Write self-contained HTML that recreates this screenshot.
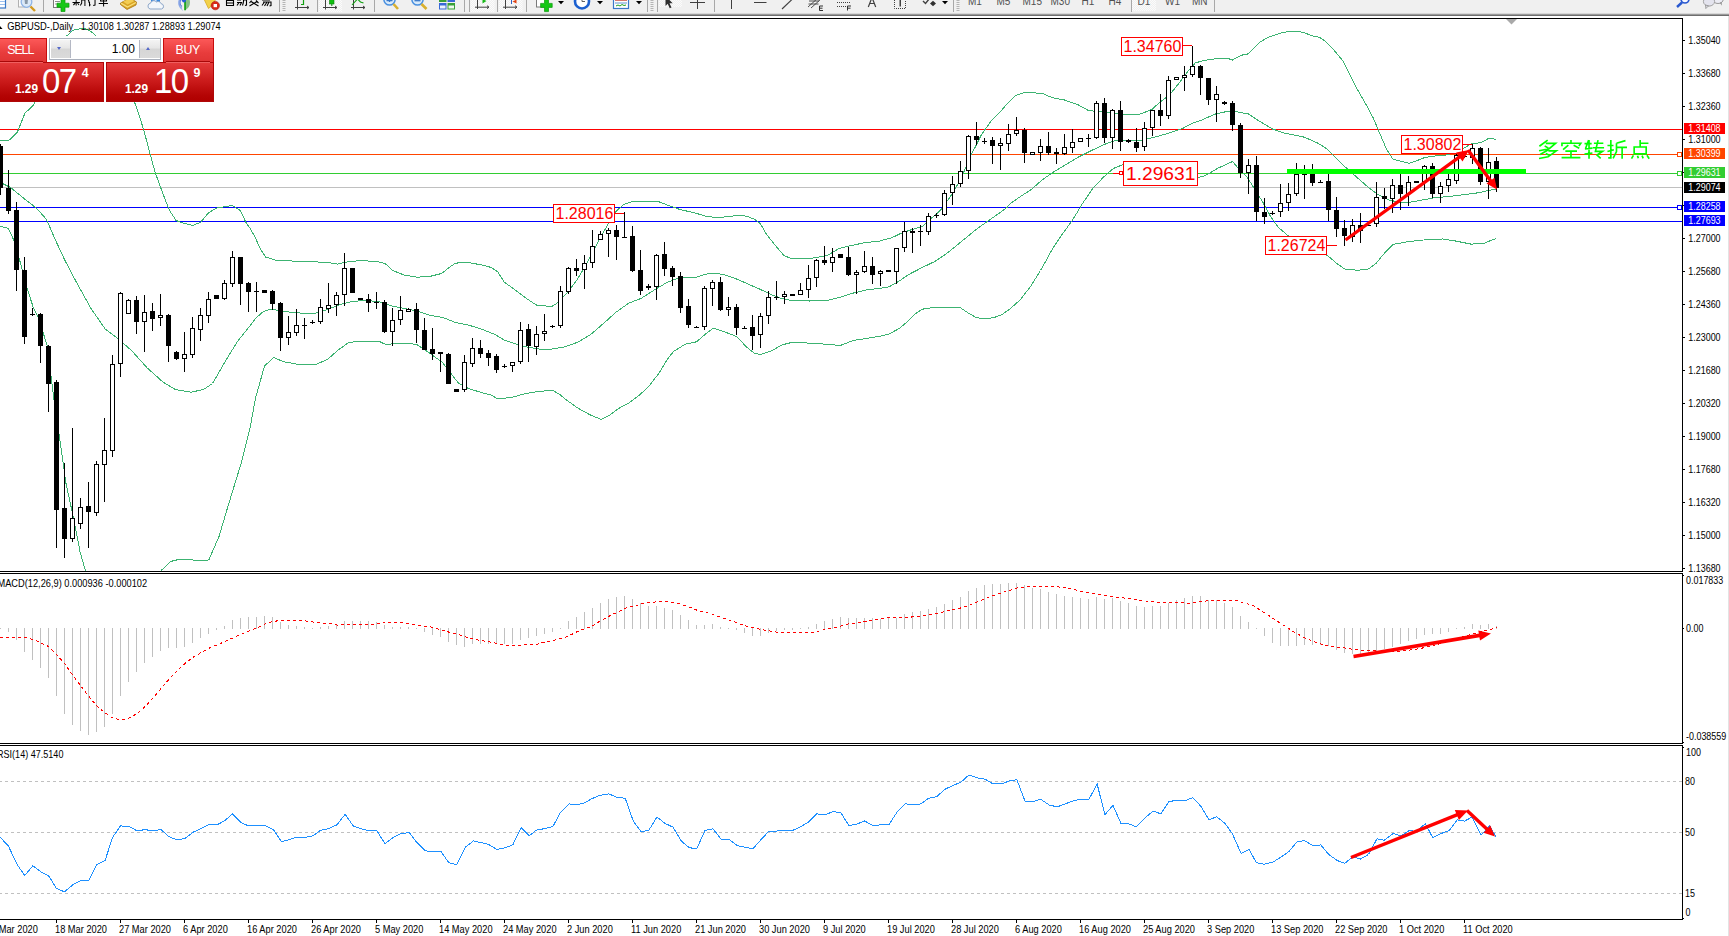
<!DOCTYPE html>
<html><head><meta charset="utf-8"><title>GBPUSD Daily</title>
<style>
html,body{margin:0;padding:0;background:#fff;}
body{width:1729px;height:936px;position:relative;overflow:hidden;font-family:"Liberation Sans",sans-serif;}
</style></head><body>
<svg width="1729" height="936" viewBox="0 0 1729 936" style="position:absolute;left:0;top:0">
<g shape-rendering="crispEdges">
<defs><clipPath id="cm"><rect x="0" y="19" width="1682" height="552"/></clipPath></defs>
<rect x="0" y="129" width="1682" height="1" fill="#ff0000" />
<rect x="0" y="154" width="1682" height="1" fill="#ff4500" />
<rect x="0" y="173" width="1682" height="1" fill="#32cd32" />
<rect x="0" y="187" width="1682" height="1" fill="#c0c0c0" />
<rect x="0" y="207" width="1682" height="1" fill="#0000ff" />
<rect x="0" y="221" width="1682" height="1" fill="#0000ff" />
<g clip-path="url(#cm)">
<polyline points="0.5,140.2 8.2,141.0 17.2,132.5 24.9,113.3 33.5,105.1 40.5,90.5 48.5,65.5 58.5,45.5 66.5,36.2 73.0,30.2 80.3,28.7 87.0,29.1 92.3,32.5 96.3,36.2 105.5,48.5 118.5,68.5 128.5,88.5 135.5,104.7 138.9,114.3 144.1,131.3 150.5,155.5 155.5,173.5 164.5,197.9 169.5,210.5 176.1,220.5 182.5,222.8 192.8,225.5 200.5,222.3 208.2,213.3 215.9,208.2 226.1,206.4 232.5,205.5 240.2,210.5 246.5,223.5 250.5,229.0 255.5,237.9 260.5,249.5 265.9,257.2 276.1,260.2 301.5,261.5 327.5,262.3 337.5,264.1 347.9,261.8 360.5,260.5 378.5,261.8 385.1,263.5 392.8,270.5 404.3,275.1 417.2,277.2 430.0,276.4 441.5,273.5 449.2,267.5 455.5,263.1 468.5,262.5 481.3,264.9 491.5,267.5 497.9,272.0 504.3,282.3 510.5,286.5 515.9,290.5 526.1,298.2 536.5,305.1 551.8,306.5 556.9,303.3 567.2,293.1 577.5,279.0 587.5,262.3 595.5,246.9 603.1,232.8 608.2,223.8 615.1,212.3 623.5,204.5 631.3,202.0 644.1,201.5 659.5,202.0 669.5,205.9 680.0,209.5 695.5,213.1 705.5,216.1 715.9,217.5 726.1,216.9 736.5,215.5 746.5,216.1 754.3,219.2 760.5,223.8 765.9,233.5 776.1,246.4 783.8,255.4 791.5,258.7 801.8,258.7 814.5,257.9 827.5,255.4 839.0,248.5 853.1,245.1 865.9,242.5 878.5,241.3 891.5,237.9 901.5,233.1 912.0,229.5 922.3,226.4 930.0,219.5 940.2,210.5 950.5,196.4 960.5,179.5 971.0,155.4 981.3,134.9 991.5,120.5 1000.5,111.5 1008.2,102.5 1015.9,95.4 1023.5,92.8 1041.5,93.1 1051.8,97.5 1064.5,100.0 1077.5,104.5 1089.0,110.8 1103.1,111.5 1115.9,113.5 1128.5,114.9 1140.2,114.1 1151.8,109.5 1159.5,102.5 1169.5,94.9 1180.0,82.0 1187.5,71.8 1195.4,62.8 1205.5,60.2 1215.5,58.8 1229.1,58.8 1232.1,60.2 1241.1,55.3 1248.5,53.8 1260.5,41.8 1268.2,37.3 1280.2,33.1 1287.5,31.7 1299.5,31.7 1305.5,33.1 1311.5,35.8 1319.3,37.3 1325.3,41.1 1332.5,48.5 1343.4,61.4 1350.5,76.4 1358.5,91.5 1365.5,103.5 1373.5,118.5 1378.5,130.5 1386.5,149.2 1392.8,159.0 1401.8,161.5 1409.5,163.3 1417.2,160.5 1424.9,157.5 1435.1,156.0 1445.4,155.1 1455.5,152.5 1463.3,148.5 1471.0,144.0 1481.3,142.5 1488.0,138.8 1493.1,138.8 1496.5,140.1" fill="none" stroke="#3cb371" stroke-width="1" />
<polyline points="0.5,182.5 10.5,187.5 24.9,199.2 36.5,208.2 46.5,219.5 55.5,240.2 64.5,259.5 75.5,280.5 91.0,308.5 105.1,328.9 117.5,338.2 131.5,350.5 147.2,367.9 162.8,381.9 175.3,389.5 190.9,392.2 203.5,389.5 212.5,383.5 225.2,361.5 237.5,341.4 250.2,325.5 255.5,318.5 263.3,311.5 271.0,309.0 283.8,311.5 301.5,313.1 314.5,313.5 327.5,309.5 340.2,304.5 353.1,301.3 365.9,300.5 378.5,301.5 391.5,305.9 404.3,308.5 417.2,311.0 430.0,315.4 442.8,317.5 455.5,322.5 468.5,325.1 481.3,329.0 494.1,334.1 504.3,340.0 513.3,343.1 526.1,346.9 539.0,349.0 551.8,349.0 564.5,346.9 577.5,342.3 590.2,334.9 603.1,323.8 615.9,312.3 628.5,303.3 641.5,298.2 654.3,290.0 667.2,282.3 680.0,277.5 695.5,277.5 705.5,274.3 713.3,273.1 723.5,274.5 736.5,279.0 746.5,283.3 760.5,289.5 771.0,294.5 781.3,298.5 791.5,300.5 809.5,301.0 827.5,300.5 840.2,297.2 853.1,293.1 865.9,290.0 878.5,288.5 889.0,286.9 899.2,281.0 909.5,274.1 922.3,267.5 935.1,261.3 945.4,254.5 955.5,246.4 965.9,237.9 976.1,229.5 986.5,222.0 996.5,215.1 1006.9,207.5 1010.5,203.5 1021.0,196.1 1031.3,189.5 1041.5,180.5 1051.8,173.1 1064.5,165.4 1077.5,157.5 1087.5,152.5 1103.1,144.9 1115.9,140.2 1128.5,140.5 1141.5,140.2 1151.8,137.9 1162.0,135.1 1172.3,132.0 1182.5,128.5 1192.8,123.1 1200.5,120.5 1215.5,114.0 1229.1,111.0 1238.1,112.0 1248.5,114.0 1257.5,120.0 1272.5,129.0 1284.5,133.1 1304.5,137.2 1317.2,142.8 1327.5,149.2 1337.5,159.5 1347.9,169.5 1358.2,178.5 1368.5,187.5 1378.5,194.9 1389.0,200.0 1399.2,202.3 1409.5,202.3 1419.5,200.5 1433.3,198.0 1450.5,196.3 1467.5,194.2 1480.3,192.5 1488.9,190.3 1496.5,189.3" fill="none" stroke="#3cb371" stroke-width="1" />
<polyline points="0.5,226.1 8.2,228.5 13.3,239.0 19.5,259.5 26.1,285.1 33.5,308.2 38.0,316.5 47.3,346.0 53.5,396.0 59.8,439.5 66.0,483.5 73.8,519.3 80.1,552.0 85.4,570.5 86.5,575.5" fill="none" stroke="#3cb371" stroke-width="1" />
<polyline points="159.5,575.5 161.2,570.5 170.5,561.5 178.5,559.5 206.5,560.5 209.0,559.5 219.0,536.5 228.3,505.2 240.8,464.5 250.2,427.2 255.5,398.2 264.5,366.1 273.5,357.5 283.8,361.8 301.5,364.9 314.5,364.9 327.5,359.5 337.5,350.5 347.9,343.1 358.2,341.0 378.5,341.0 386.5,344.9 394.1,343.3 409.5,343.1 417.2,344.9 430.0,353.3 442.8,362.8 453.1,376.4 458.2,382.8 468.5,388.5 481.3,392.5 491.5,395.1 497.9,399.0 510.5,397.5 513.3,396.9 526.1,393.5 539.0,391.3 553.1,390.5 559.5,394.3 567.2,400.5 577.5,407.9 590.2,414.9 601.3,419.5 608.2,416.1 618.5,408.5 628.5,403.3 639.0,395.5 649.2,385.9 659.5,372.5 667.2,359.5 673.5,351.5 685.1,344.3 696.5,341.8 705.5,334.1 713.3,328.2 723.5,331.5 736.5,336.5 746.5,346.9 754.3,353.3 760.5,354.5 772.3,350.5 781.3,345.1 791.5,342.5 809.5,343.1 827.5,344.3 840.2,345.5 853.1,340.5 865.9,338.5 878.5,336.5 889.0,334.1 899.2,328.5 906.9,322.0 914.5,314.3 922.3,309.2 935.1,307.2 947.9,307.9 960.5,307.9 968.5,313.1 976.1,317.5 983.8,319.0 994.1,317.5 1001.5,314.9 1010.5,308.5 1020.5,299.5 1030.5,286.5 1040.5,270.5 1046.1,260.5 1051.8,250.0 1062.0,234.5 1072.3,220.5 1082.5,203.5 1092.8,188.5 1103.1,177.5 1113.3,168.5 1122.3,164.9 1140.5,162.5 1160.5,168.5 1180.5,176.5 1197.9,177.5 1205.5,175.5 1218.5,167.9 1232.5,161.5 1239.0,169.2 1246.5,176.5 1253.1,186.5 1260.5,198.5 1263.3,203.1 1271.0,217.2 1278.5,227.5 1289.0,236.5 1300.5,243.5 1315.5,250.5 1327.5,255.5 1336.5,263.3 1345.4,269.5 1358.2,270.2 1368.5,269.0 1376.1,263.3 1383.5,254.3 1392.8,244.5 1404.3,242.3 1417.2,240.5 1430.0,239.5 1442.8,239.0 1455.5,241.0 1471.0,244.1 1483.5,243.5 1491.5,240.2 1496.5,238.5" fill="none" stroke="#3cb371" stroke-width="1" />
<rect x="0" y="144" width="1" height="51" fill="#000" />
<rect x="-2" y="146" width="5" height="42" fill="#000" />
<rect x="8" y="170" width="1" height="44" fill="#000" />
<rect x="6" y="188" width="5" height="23" fill="#000" />
<rect x="16" y="202" width="1" height="89" fill="#000" />
<rect x="14" y="210" width="5" height="60" fill="#000" />
<rect x="24" y="257" width="1" height="87" fill="#000" />
<rect x="22" y="270" width="5" height="67" fill="#000" />
<rect x="32" y="308" width="1" height="8" fill="#000" />
<rect x="30" y="314" width="5" height="1" fill="#000" />
<rect x="40" y="313" width="1" height="50" fill="#000" />
<rect x="38" y="314" width="5" height="32" fill="#000" />
<rect x="48" y="345" width="1" height="67" fill="#000" />
<rect x="46" y="346" width="5" height="38" fill="#000" />
<rect x="56" y="380" width="1" height="168" fill="#000" />
<rect x="54" y="382" width="5" height="128" fill="#000" />
<rect x="64" y="463" width="1" height="95" fill="#000" />
<rect x="62" y="508" width="5" height="31" fill="#000" />
<rect x="72" y="428" width="1" height="114" fill="#000" />
<rect x="70" y="518" width="5" height="21" fill="#000" />
<rect x="71" y="519" width="3" height="19" fill="#fff" />
<rect x="80" y="498" width="1" height="31" fill="#000" />
<rect x="78" y="507" width="5" height="17" fill="#000" />
<rect x="79" y="508" width="3" height="15" fill="#fff" />
<rect x="88" y="482" width="1" height="66" fill="#000" />
<rect x="86" y="506" width="5" height="6" fill="#000" />
<rect x="96" y="461" width="1" height="55" fill="#000" />
<rect x="94" y="464" width="5" height="49" fill="#000" />
<rect x="95" y="465" width="3" height="47" fill="#fff" />
<rect x="104" y="418" width="1" height="84" fill="#000" />
<rect x="102" y="450" width="5" height="15" fill="#000" />
<rect x="103" y="451" width="3" height="13" fill="#fff" />
<rect x="112" y="355" width="1" height="102" fill="#000" />
<rect x="110" y="364" width="5" height="87" fill="#000" />
<rect x="111" y="365" width="3" height="85" fill="#fff" />
<rect x="120" y="292" width="1" height="85" fill="#000" />
<rect x="118" y="293" width="5" height="71" fill="#000" />
<rect x="119" y="294" width="3" height="69" fill="#fff" />
<rect x="128" y="299" width="1" height="15" fill="#000" />
<rect x="126" y="300" width="5" height="14" fill="#000" />
<rect x="127" y="301" width="3" height="12" fill="#fff" />
<rect x="136" y="296" width="1" height="38" fill="#000" />
<rect x="134" y="300" width="5" height="22" fill="#000" />
<rect x="144" y="295" width="1" height="57" fill="#000" />
<rect x="142" y="312" width="5" height="10" fill="#000" />
<rect x="143" y="313" width="3" height="8" fill="#fff" />
<rect x="152" y="303" width="1" height="28" fill="#000" />
<rect x="150" y="311" width="5" height="8" fill="#000" />
<rect x="160" y="294" width="1" height="32" fill="#000" />
<rect x="158" y="315" width="5" height="3" fill="#000" />
<rect x="159" y="316" width="3" height="1" fill="#fff" />
<rect x="168" y="314" width="1" height="48" fill="#000" />
<rect x="166" y="315" width="5" height="31" fill="#000" />
<rect x="176" y="351" width="1" height="9" fill="#000" />
<rect x="174" y="352" width="5" height="7" fill="#000" />
<rect x="184" y="332" width="1" height="40" fill="#000" />
<rect x="182" y="354" width="5" height="5" fill="#000" />
<rect x="183" y="355" width="3" height="3" fill="#fff" />
<rect x="192" y="317" width="1" height="41" fill="#000" />
<rect x="190" y="328" width="5" height="27" fill="#000" />
<rect x="191" y="329" width="3" height="25" fill="#fff" />
<rect x="200" y="308" width="1" height="33" fill="#000" />
<rect x="198" y="315" width="5" height="15" fill="#000" />
<rect x="199" y="316" width="3" height="13" fill="#fff" />
<rect x="208" y="292" width="1" height="31" fill="#000" />
<rect x="206" y="299" width="5" height="17" fill="#000" />
<rect x="207" y="300" width="3" height="15" fill="#fff" />
<rect x="214" y="295" width="5" height="4" fill="#000" />
<rect x="224" y="280" width="1" height="20" fill="#000" />
<rect x="222" y="283" width="5" height="16" fill="#000" />
<rect x="223" y="284" width="3" height="14" fill="#fff" />
<rect x="232" y="251" width="1" height="36" fill="#000" />
<rect x="230" y="257" width="5" height="27" fill="#000" />
<rect x="231" y="258" width="3" height="25" fill="#fff" />
<rect x="240" y="257" width="1" height="48" fill="#000" />
<rect x="238" y="257" width="5" height="27" fill="#000" />
<rect x="248" y="282" width="1" height="30" fill="#000" />
<rect x="246" y="283" width="5" height="9" fill="#000" />
<rect x="256" y="282" width="1" height="30" fill="#000" />
<rect x="254" y="291" width="5" height="1" fill="#000" />
<rect x="262" y="290" width="5" height="3" fill="#000" />
<rect x="272" y="290" width="1" height="20" fill="#000" />
<rect x="270" y="291" width="5" height="13" fill="#000" />
<rect x="280" y="302" width="1" height="49" fill="#000" />
<rect x="278" y="303" width="5" height="35" fill="#000" />
<rect x="288" y="316" width="1" height="29" fill="#000" />
<rect x="286" y="332" width="5" height="6" fill="#000" />
<rect x="287" y="333" width="3" height="4" fill="#fff" />
<rect x="296" y="309" width="1" height="27" fill="#000" />
<rect x="294" y="325" width="5" height="8" fill="#000" />
<rect x="295" y="326" width="3" height="6" fill="#fff" />
<rect x="304" y="318" width="1" height="21" fill="#000" />
<rect x="302" y="325" width="5" height="1" fill="#000" />
<rect x="312" y="320" width="1" height="4" fill="#000" />
<rect x="310" y="322" width="5" height="1" fill="#000" />
<rect x="320" y="299" width="1" height="25" fill="#000" />
<rect x="318" y="307" width="5" height="15" fill="#000" />
<rect x="319" y="308" width="3" height="13" fill="#fff" />
<rect x="328" y="283" width="1" height="30" fill="#000" />
<rect x="326" y="305" width="5" height="4" fill="#000" />
<rect x="327" y="306" width="3" height="2" fill="#fff" />
<rect x="336" y="292" width="1" height="24" fill="#000" />
<rect x="334" y="295" width="5" height="10" fill="#000" />
<rect x="335" y="296" width="3" height="8" fill="#fff" />
<rect x="344" y="253" width="1" height="53" fill="#000" />
<rect x="342" y="268" width="5" height="27" fill="#000" />
<rect x="343" y="269" width="3" height="25" fill="#fff" />
<rect x="350" y="268" width="5" height="25" fill="#000" />
<rect x="358" y="298" width="5" height="2" fill="#000" />
<rect x="368" y="294" width="1" height="18" fill="#000" />
<rect x="366" y="299" width="5" height="4" fill="#000" />
<rect x="376" y="292" width="1" height="17" fill="#000" />
<rect x="374" y="302" width="5" height="1" fill="#000" />
<rect x="384" y="300" width="1" height="33" fill="#000" />
<rect x="382" y="302" width="5" height="30" fill="#000" />
<rect x="392" y="308" width="1" height="38" fill="#000" />
<rect x="390" y="320" width="5" height="12" fill="#000" />
<rect x="391" y="321" width="3" height="10" fill="#fff" />
<rect x="400" y="296" width="1" height="29" fill="#000" />
<rect x="398" y="310" width="5" height="10" fill="#000" />
<rect x="399" y="311" width="3" height="8" fill="#fff" />
<rect x="408" y="308" width="1" height="4" fill="#000" />
<rect x="406" y="309" width="5" height="3" fill="#000" />
<rect x="407" y="310" width="3" height="1" fill="#fff" />
<rect x="416" y="303" width="1" height="40" fill="#000" />
<rect x="414" y="309" width="5" height="21" fill="#000" />
<rect x="424" y="318" width="1" height="32" fill="#000" />
<rect x="422" y="330" width="5" height="20" fill="#000" />
<rect x="432" y="328" width="1" height="32" fill="#000" />
<rect x="430" y="349" width="5" height="5" fill="#000" />
<rect x="440" y="352" width="1" height="20" fill="#000" />
<rect x="438" y="352" width="5" height="2" fill="#000" />
<rect x="448" y="353" width="1" height="31" fill="#000" />
<rect x="446" y="354" width="5" height="30" fill="#000" />
<rect x="454" y="389" width="5" height="3" fill="#000" />
<rect x="464" y="355" width="1" height="37" fill="#000" />
<rect x="462" y="362" width="5" height="28" fill="#000" />
<rect x="463" y="363" width="3" height="26" fill="#fff" />
<rect x="472" y="338" width="1" height="29" fill="#000" />
<rect x="470" y="348" width="5" height="16" fill="#000" />
<rect x="471" y="349" width="3" height="14" fill="#fff" />
<rect x="480" y="340" width="1" height="18" fill="#000" />
<rect x="478" y="348" width="5" height="6" fill="#000" />
<rect x="488" y="350" width="1" height="16" fill="#000" />
<rect x="486" y="353" width="5" height="5" fill="#000" />
<rect x="496" y="354" width="1" height="19" fill="#000" />
<rect x="494" y="356" width="5" height="14" fill="#000" />
<rect x="504" y="364" width="1" height="4" fill="#000" />
<rect x="502" y="366" width="5" height="1" fill="#000" />
<rect x="512" y="362" width="1" height="10" fill="#000" />
<rect x="510" y="362" width="5" height="4" fill="#000" />
<rect x="511" y="363" width="3" height="2" fill="#fff" />
<rect x="520" y="322" width="1" height="42" fill="#000" />
<rect x="518" y="330" width="5" height="32" fill="#000" />
<rect x="519" y="331" width="3" height="30" fill="#fff" />
<rect x="528" y="324" width="1" height="38" fill="#000" />
<rect x="526" y="329" width="5" height="17" fill="#000" />
<rect x="536" y="326" width="1" height="29" fill="#000" />
<rect x="534" y="334" width="5" height="13" fill="#000" />
<rect x="535" y="335" width="3" height="11" fill="#fff" />
<rect x="544" y="314" width="1" height="27" fill="#000" />
<rect x="542" y="331" width="5" height="3" fill="#000" />
<rect x="543" y="332" width="3" height="1" fill="#fff" />
<rect x="552" y="325" width="1" height="3" fill="#000" />
<rect x="550" y="326" width="5" height="1" fill="#000" />
<rect x="560" y="286" width="1" height="42" fill="#000" />
<rect x="558" y="291" width="5" height="35" fill="#000" />
<rect x="559" y="292" width="3" height="33" fill="#fff" />
<rect x="568" y="267" width="1" height="27" fill="#000" />
<rect x="566" y="268" width="5" height="24" fill="#000" />
<rect x="567" y="269" width="3" height="22" fill="#fff" />
<rect x="576" y="259" width="1" height="17" fill="#000" />
<rect x="574" y="268" width="5" height="3" fill="#000" />
<rect x="584" y="255" width="1" height="34" fill="#000" />
<rect x="582" y="263" width="5" height="7" fill="#000" />
<rect x="583" y="264" width="3" height="5" fill="#fff" />
<rect x="592" y="230" width="1" height="38" fill="#000" />
<rect x="590" y="246" width="5" height="17" fill="#000" />
<rect x="591" y="247" width="3" height="15" fill="#fff" />
<rect x="600" y="231" width="1" height="9" fill="#000" />
<rect x="598" y="234" width="5" height="6" fill="#000" />
<rect x="599" y="235" width="3" height="4" fill="#fff" />
<rect x="608" y="228" width="1" height="29" fill="#000" />
<rect x="606" y="230" width="5" height="4" fill="#000" />
<rect x="607" y="231" width="3" height="2" fill="#fff" />
<rect x="616" y="225" width="1" height="35" fill="#000" />
<rect x="614" y="230" width="5" height="7" fill="#000" />
<rect x="624" y="212" width="1" height="25" fill="#000" />
<rect x="622" y="237" width="5" height="1" fill="#000" />
<rect x="632" y="226" width="1" height="46" fill="#000" />
<rect x="630" y="236" width="5" height="35" fill="#000" />
<rect x="640" y="250" width="1" height="45" fill="#000" />
<rect x="638" y="270" width="5" height="21" fill="#000" />
<rect x="648" y="284" width="1" height="6" fill="#000" />
<rect x="646" y="286" width="5" height="2" fill="#000" />
<rect x="656" y="254" width="1" height="46" fill="#000" />
<rect x="654" y="255" width="5" height="32" fill="#000" />
<rect x="655" y="256" width="3" height="30" fill="#fff" />
<rect x="664" y="242" width="1" height="34" fill="#000" />
<rect x="662" y="254" width="5" height="15" fill="#000" />
<rect x="672" y="266" width="1" height="20" fill="#000" />
<rect x="670" y="268" width="5" height="9" fill="#000" />
<rect x="680" y="272" width="1" height="41" fill="#000" />
<rect x="678" y="276" width="5" height="32" fill="#000" />
<rect x="688" y="299" width="1" height="29" fill="#000" />
<rect x="686" y="306" width="5" height="19" fill="#000" />
<rect x="696" y="326" width="1" height="2" fill="#000" />
<rect x="694" y="327" width="5" height="1" fill="#000" />
<rect x="704" y="286" width="1" height="44" fill="#000" />
<rect x="702" y="288" width="5" height="39" fill="#000" />
<rect x="703" y="289" width="3" height="37" fill="#fff" />
<rect x="712" y="280" width="1" height="26" fill="#000" />
<rect x="710" y="282" width="5" height="7" fill="#000" />
<rect x="711" y="283" width="3" height="5" fill="#fff" />
<rect x="720" y="277" width="1" height="34" fill="#000" />
<rect x="718" y="282" width="5" height="28" fill="#000" />
<rect x="728" y="297" width="1" height="19" fill="#000" />
<rect x="726" y="307" width="5" height="3" fill="#000" />
<rect x="727" y="308" width="3" height="1" fill="#fff" />
<rect x="736" y="304" width="1" height="31" fill="#000" />
<rect x="734" y="307" width="5" height="21" fill="#000" />
<rect x="744" y="326" width="1" height="3" fill="#000" />
<rect x="742" y="328" width="5" height="1" fill="#000" />
<rect x="752" y="315" width="1" height="35" fill="#000" />
<rect x="750" y="327" width="5" height="9" fill="#000" />
<rect x="760" y="313" width="1" height="35" fill="#000" />
<rect x="758" y="316" width="5" height="19" fill="#000" />
<rect x="759" y="317" width="3" height="17" fill="#fff" />
<rect x="768" y="291" width="1" height="33" fill="#000" />
<rect x="766" y="297" width="5" height="19" fill="#000" />
<rect x="767" y="298" width="3" height="17" fill="#fff" />
<rect x="776" y="281" width="1" height="19" fill="#000" />
<rect x="774" y="297" width="5" height="1" fill="#000" />
<rect x="784" y="291" width="1" height="13" fill="#000" />
<rect x="782" y="294" width="5" height="3" fill="#000" />
<rect x="783" y="295" width="3" height="1" fill="#fff" />
<rect x="790" y="294" width="5" height="2" fill="#000" />
<rect x="800" y="283" width="1" height="12" fill="#000" />
<rect x="798" y="290" width="5" height="5" fill="#000" />
<rect x="799" y="291" width="3" height="3" fill="#fff" />
<rect x="808" y="265" width="1" height="33" fill="#000" />
<rect x="806" y="278" width="5" height="12" fill="#000" />
<rect x="807" y="279" width="3" height="10" fill="#fff" />
<rect x="816" y="259" width="1" height="28" fill="#000" />
<rect x="814" y="260" width="5" height="18" fill="#000" />
<rect x="815" y="261" width="3" height="16" fill="#fff" />
<rect x="824" y="246" width="1" height="19" fill="#000" />
<rect x="822" y="260" width="5" height="3" fill="#000" />
<rect x="832" y="248" width="1" height="24" fill="#000" />
<rect x="830" y="257" width="5" height="6" fill="#000" />
<rect x="831" y="258" width="3" height="4" fill="#fff" />
<rect x="838" y="254" width="5" height="4" fill="#000" />
<rect x="848" y="247" width="1" height="29" fill="#000" />
<rect x="846" y="257" width="5" height="18" fill="#000" />
<rect x="856" y="270" width="1" height="24" fill="#000" />
<rect x="854" y="272" width="5" height="3" fill="#000" />
<rect x="855" y="273" width="3" height="1" fill="#fff" />
<rect x="864" y="251" width="1" height="22" fill="#000" />
<rect x="862" y="266" width="5" height="6" fill="#000" />
<rect x="863" y="267" width="3" height="4" fill="#fff" />
<rect x="872" y="257" width="1" height="27" fill="#000" />
<rect x="870" y="266" width="5" height="9" fill="#000" />
<rect x="880" y="270" width="1" height="16" fill="#000" />
<rect x="878" y="271" width="5" height="3" fill="#000" />
<rect x="879" y="272" width="3" height="1" fill="#fff" />
<rect x="886" y="270" width="5" height="2" fill="#000" />
<rect x="896" y="248" width="1" height="36" fill="#000" />
<rect x="894" y="248" width="5" height="24" fill="#000" />
<rect x="895" y="249" width="3" height="22" fill="#fff" />
<rect x="904" y="222" width="1" height="30" fill="#000" />
<rect x="902" y="231" width="5" height="17" fill="#000" />
<rect x="903" y="232" width="3" height="15" fill="#fff" />
<rect x="912" y="228" width="1" height="25" fill="#000" />
<rect x="910" y="231" width="5" height="2" fill="#000" />
<rect x="920" y="225" width="1" height="21" fill="#000" />
<rect x="918" y="231" width="5" height="1" fill="#000" />
<rect x="928" y="213" width="1" height="22" fill="#000" />
<rect x="926" y="216" width="5" height="16" fill="#000" />
<rect x="927" y="217" width="3" height="14" fill="#fff" />
<rect x="936" y="213" width="1" height="5" fill="#000" />
<rect x="934" y="215" width="5" height="1" fill="#000" />
<rect x="944" y="190" width="1" height="26" fill="#000" />
<rect x="942" y="193" width="5" height="22" fill="#000" />
<rect x="943" y="194" width="3" height="20" fill="#fff" />
<rect x="952" y="176" width="1" height="29" fill="#000" />
<rect x="950" y="184" width="5" height="9" fill="#000" />
<rect x="951" y="185" width="3" height="7" fill="#fff" />
<rect x="960" y="161" width="1" height="26" fill="#000" />
<rect x="958" y="171" width="5" height="13" fill="#000" />
<rect x="959" y="172" width="3" height="11" fill="#fff" />
<rect x="968" y="135" width="1" height="44" fill="#000" />
<rect x="966" y="136" width="5" height="35" fill="#000" />
<rect x="967" y="137" width="3" height="33" fill="#fff" />
<rect x="976" y="122" width="1" height="23" fill="#000" />
<rect x="974" y="136" width="5" height="4" fill="#000" />
<rect x="984" y="138" width="1" height="6" fill="#000" />
<rect x="982" y="141" width="5" height="1" fill="#000" />
<rect x="992" y="137" width="1" height="27" fill="#000" />
<rect x="990" y="140" width="5" height="6" fill="#000" />
<rect x="1000" y="138" width="1" height="32" fill="#000" />
<rect x="998" y="143" width="5" height="3" fill="#000" />
<rect x="999" y="144" width="3" height="1" fill="#fff" />
<rect x="1008" y="124" width="1" height="27" fill="#000" />
<rect x="1006" y="134" width="5" height="10" fill="#000" />
<rect x="1007" y="135" width="3" height="8" fill="#fff" />
<rect x="1016" y="117" width="1" height="19" fill="#000" />
<rect x="1014" y="130" width="5" height="4" fill="#000" />
<rect x="1015" y="131" width="3" height="2" fill="#fff" />
<rect x="1024" y="128" width="1" height="35" fill="#000" />
<rect x="1022" y="130" width="5" height="23" fill="#000" />
<rect x="1030" y="152" width="5" height="3" fill="#000" />
<rect x="1031" y="153" width="3" height="1" fill="#fff" />
<rect x="1040" y="139" width="1" height="22" fill="#000" />
<rect x="1038" y="146" width="5" height="7" fill="#000" />
<rect x="1039" y="147" width="3" height="5" fill="#fff" />
<rect x="1048" y="132" width="1" height="23" fill="#000" />
<rect x="1046" y="146" width="5" height="7" fill="#000" />
<rect x="1056" y="148" width="1" height="16" fill="#000" />
<rect x="1054" y="152" width="5" height="2" fill="#000" />
<rect x="1064" y="134" width="1" height="21" fill="#000" />
<rect x="1062" y="147" width="5" height="7" fill="#000" />
<rect x="1063" y="148" width="3" height="5" fill="#fff" />
<rect x="1072" y="129" width="1" height="24" fill="#000" />
<rect x="1070" y="142" width="5" height="6" fill="#000" />
<rect x="1071" y="143" width="3" height="4" fill="#fff" />
<rect x="1078" y="138" width="5" height="4" fill="#000" />
<rect x="1079" y="139" width="3" height="2" fill="#fff" />
<rect x="1088" y="134" width="1" height="13" fill="#000" />
<rect x="1086" y="138" width="5" height="1" fill="#000" />
<rect x="1096" y="101" width="1" height="38" fill="#000" />
<rect x="1094" y="103" width="5" height="35" fill="#000" />
<rect x="1095" y="104" width="3" height="33" fill="#fff" />
<rect x="1104" y="98" width="1" height="45" fill="#000" />
<rect x="1102" y="103" width="5" height="35" fill="#000" />
<rect x="1112" y="109" width="1" height="40" fill="#000" />
<rect x="1110" y="110" width="5" height="28" fill="#000" />
<rect x="1111" y="111" width="3" height="26" fill="#fff" />
<rect x="1120" y="101" width="1" height="50" fill="#000" />
<rect x="1118" y="110" width="5" height="32" fill="#000" />
<rect x="1128" y="139" width="1" height="4" fill="#000" />
<rect x="1126" y="140" width="5" height="2" fill="#000" />
<rect x="1136" y="128" width="1" height="24" fill="#000" />
<rect x="1134" y="142" width="5" height="6" fill="#000" />
<rect x="1144" y="122" width="1" height="29" fill="#000" />
<rect x="1142" y="128" width="5" height="19" fill="#000" />
<rect x="1143" y="129" width="3" height="17" fill="#fff" />
<rect x="1152" y="110" width="1" height="26" fill="#000" />
<rect x="1150" y="110" width="5" height="18" fill="#000" />
<rect x="1151" y="111" width="3" height="16" fill="#fff" />
<rect x="1160" y="94" width="1" height="32" fill="#000" />
<rect x="1158" y="110" width="5" height="6" fill="#000" />
<rect x="1168" y="76" width="1" height="43" fill="#000" />
<rect x="1166" y="80" width="5" height="36" fill="#000" />
<rect x="1167" y="81" width="3" height="34" fill="#fff" />
<rect x="1174" y="77" width="5" height="3" fill="#000" />
<rect x="1175" y="78" width="3" height="1" fill="#fff" />
<rect x="1184" y="66" width="1" height="25" fill="#000" />
<rect x="1182" y="75" width="5" height="3" fill="#000" />
<rect x="1183" y="76" width="3" height="1" fill="#fff" />
<rect x="1192" y="46" width="1" height="31" fill="#000" />
<rect x="1190" y="66" width="5" height="9" fill="#000" />
<rect x="1191" y="67" width="3" height="7" fill="#fff" />
<rect x="1200" y="65" width="1" height="30" fill="#000" />
<rect x="1198" y="66" width="5" height="12" fill="#000" />
<rect x="1208" y="78" width="1" height="27" fill="#000" />
<rect x="1206" y="78" width="5" height="22" fill="#000" />
<rect x="1216" y="86" width="1" height="36" fill="#000" />
<rect x="1214" y="94" width="5" height="6" fill="#000" />
<rect x="1215" y="95" width="3" height="4" fill="#fff" />
<rect x="1224" y="101" width="1" height="4" fill="#000" />
<rect x="1222" y="102" width="5" height="2" fill="#000" />
<rect x="1232" y="101" width="1" height="30" fill="#000" />
<rect x="1230" y="103" width="5" height="22" fill="#000" />
<rect x="1240" y="123" width="1" height="55" fill="#000" />
<rect x="1238" y="125" width="5" height="48" fill="#000" />
<rect x="1248" y="159" width="1" height="35" fill="#000" />
<rect x="1246" y="165" width="5" height="8" fill="#000" />
<rect x="1247" y="166" width="3" height="6" fill="#fff" />
<rect x="1256" y="156" width="1" height="65" fill="#000" />
<rect x="1254" y="165" width="5" height="47" fill="#000" />
<rect x="1264" y="198" width="1" height="26" fill="#000" />
<rect x="1262" y="212" width="5" height="5" fill="#000" />
<rect x="1272" y="211" width="1" height="4" fill="#000" />
<rect x="1270" y="213" width="5" height="1" fill="#000" />
<rect x="1280" y="184" width="1" height="33" fill="#000" />
<rect x="1278" y="203" width="5" height="9" fill="#000" />
<rect x="1279" y="204" width="3" height="7" fill="#fff" />
<rect x="1288" y="183" width="1" height="28" fill="#000" />
<rect x="1286" y="194" width="5" height="9" fill="#000" />
<rect x="1287" y="195" width="3" height="7" fill="#fff" />
<rect x="1296" y="163" width="1" height="33" fill="#000" />
<rect x="1294" y="174" width="5" height="20" fill="#000" />
<rect x="1295" y="175" width="3" height="18" fill="#fff" />
<rect x="1304" y="165" width="1" height="34" fill="#000" />
<rect x="1302" y="174" width="5" height="1" fill="#000" />
<rect x="1312" y="164" width="1" height="22" fill="#000" />
<rect x="1310" y="174" width="5" height="9" fill="#000" />
<rect x="1320" y="180" width="1" height="3" fill="#000" />
<rect x="1318" y="182" width="5" height="1" fill="#000" />
<rect x="1328" y="174" width="1" height="47" fill="#000" />
<rect x="1326" y="181" width="5" height="29" fill="#000" />
<rect x="1336" y="197" width="1" height="40" fill="#000" />
<rect x="1334" y="210" width="5" height="19" fill="#000" />
<rect x="1344" y="220" width="1" height="26" fill="#000" />
<rect x="1342" y="228" width="5" height="8" fill="#000" />
<rect x="1352" y="219" width="1" height="23" fill="#000" />
<rect x="1350" y="225" width="5" height="12" fill="#000" />
<rect x="1351" y="226" width="3" height="10" fill="#fff" />
<rect x="1360" y="213" width="1" height="30" fill="#000" />
<rect x="1358" y="225" width="5" height="6" fill="#000" />
<rect x="1368" y="224" width="1" height="2" fill="#000" />
<rect x="1366" y="225" width="5" height="1" fill="#000" />
<rect x="1376" y="182" width="1" height="45" fill="#000" />
<rect x="1374" y="197" width="5" height="27" fill="#000" />
<rect x="1375" y="198" width="3" height="25" fill="#fff" />
<rect x="1384" y="188" width="1" height="21" fill="#000" />
<rect x="1382" y="196" width="5" height="3" fill="#000" />
<rect x="1392" y="179" width="1" height="34" fill="#000" />
<rect x="1390" y="185" width="5" height="14" fill="#000" />
<rect x="1391" y="186" width="3" height="12" fill="#fff" />
<rect x="1400" y="174" width="1" height="36" fill="#000" />
<rect x="1398" y="185" width="5" height="9" fill="#000" />
<rect x="1408" y="176" width="1" height="30" fill="#000" />
<rect x="1406" y="182" width="5" height="12" fill="#000" />
<rect x="1407" y="183" width="3" height="10" fill="#fff" />
<rect x="1414" y="181" width="5" height="2" fill="#000" />
<rect x="1424" y="165" width="1" height="25" fill="#000" />
<rect x="1422" y="166" width="5" height="16" fill="#000" />
<rect x="1423" y="167" width="3" height="14" fill="#fff" />
<rect x="1432" y="163" width="1" height="35" fill="#000" />
<rect x="1430" y="166" width="5" height="28" fill="#000" />
<rect x="1440" y="182" width="1" height="21" fill="#000" />
<rect x="1438" y="186" width="5" height="8" fill="#000" />
<rect x="1439" y="187" width="3" height="6" fill="#fff" />
<rect x="1448" y="174" width="1" height="18" fill="#000" />
<rect x="1446" y="179" width="5" height="7" fill="#000" />
<rect x="1447" y="180" width="3" height="5" fill="#fff" />
<rect x="1456" y="154" width="1" height="30" fill="#000" />
<rect x="1454" y="155" width="5" height="26" fill="#000" />
<rect x="1455" y="156" width="3" height="24" fill="#fff" />
<rect x="1464" y="154" width="1" height="4" fill="#000" />
<rect x="1462" y="156" width="5" height="1" fill="#000" />
<rect x="1472" y="144" width="1" height="20" fill="#000" />
<rect x="1470" y="148" width="5" height="10" fill="#000" />
<rect x="1471" y="149" width="3" height="8" fill="#fff" />
<rect x="1480" y="147" width="1" height="38" fill="#000" />
<rect x="1478" y="148" width="5" height="34" fill="#000" />
<rect x="1488" y="148" width="1" height="51" fill="#000" />
<rect x="1486" y="162" width="5" height="20" fill="#000" />
<rect x="1487" y="163" width="3" height="18" fill="#fff" />
<rect x="1496" y="157" width="1" height="35" fill="#000" />
<rect x="1494" y="161" width="5" height="27" fill="#000" />
</g>
<rect x="1287" y="169" width="239" height="5" fill="#00ff00" />
<rect x="1677.5" y="152.5" width="4" height="4" fill="#fff" stroke="#ff4500" stroke-width="1"/>
<rect x="1677.5" y="171.5" width="4" height="4" fill="#fff" stroke="#32cd32" stroke-width="1"/>
<rect x="1677.5" y="205.5" width="4" height="4" fill="#fff" stroke="#0000ff" stroke-width="1"/>
<rect x="0" y="628" width="1" height="1" fill="#c0c0c0" />
<rect x="8" y="628" width="1" height="4" fill="#c0c0c0" />
<rect x="16" y="628" width="1" height="12" fill="#c0c0c0" />
<rect x="24" y="628" width="1" height="24" fill="#c0c0c0" />
<rect x="32" y="628" width="1" height="32" fill="#c0c0c0" />
<rect x="40" y="628" width="1" height="40" fill="#c0c0c0" />
<rect x="48" y="628" width="1" height="50" fill="#c0c0c0" />
<rect x="56" y="628" width="1" height="68" fill="#c0c0c0" />
<rect x="64" y="628" width="1" height="86" fill="#c0c0c0" />
<rect x="72" y="628" width="1" height="97" fill="#c0c0c0" />
<rect x="80" y="628" width="1" height="103" fill="#c0c0c0" />
<rect x="88" y="628" width="1" height="107" fill="#c0c0c0" />
<rect x="96" y="628" width="1" height="104" fill="#c0c0c0" />
<rect x="104" y="628" width="1" height="99" fill="#c0c0c0" />
<rect x="112" y="628" width="1" height="86" fill="#c0c0c0" />
<rect x="120" y="628" width="1" height="68" fill="#c0c0c0" />
<rect x="128" y="628" width="1" height="54" fill="#c0c0c0" />
<rect x="136" y="628" width="1" height="44" fill="#c0c0c0" />
<rect x="144" y="628" width="1" height="35" fill="#c0c0c0" />
<rect x="152" y="628" width="1" height="29" fill="#c0c0c0" />
<rect x="160" y="628" width="1" height="23" fill="#c0c0c0" />
<rect x="168" y="628" width="1" height="20" fill="#c0c0c0" />
<rect x="176" y="628" width="1" height="20" fill="#c0c0c0" />
<rect x="184" y="628" width="1" height="19" fill="#c0c0c0" />
<rect x="192" y="628" width="1" height="15" fill="#c0c0c0" />
<rect x="200" y="628" width="1" height="10" fill="#c0c0c0" />
<rect x="208" y="628" width="1" height="6" fill="#c0c0c0" />
<rect x="216" y="628" width="1" height="2" fill="#c0c0c0" />
<rect x="224" y="626" width="1" height="3" fill="#c0c0c0" />
<rect x="232" y="620" width="1" height="9" fill="#c0c0c0" />
<rect x="240" y="618" width="1" height="11" fill="#c0c0c0" />
<rect x="248" y="617" width="1" height="12" fill="#c0c0c0" />
<rect x="256" y="617" width="1" height="12" fill="#c0c0c0" />
<rect x="264" y="616" width="1" height="13" fill="#c0c0c0" />
<rect x="272" y="617" width="1" height="12" fill="#c0c0c0" />
<rect x="280" y="622" width="1" height="7" fill="#c0c0c0" />
<rect x="288" y="625" width="1" height="4" fill="#c0c0c0" />
<rect x="296" y="626" width="1" height="3" fill="#c0c0c0" />
<rect x="304" y="627" width="1" height="2" fill="#c0c0c0" />
<rect x="312" y="628" width="1" height="1" fill="#c0c0c0" />
<rect x="320" y="627" width="1" height="2" fill="#c0c0c0" />
<rect x="328" y="626" width="1" height="3" fill="#c0c0c0" />
<rect x="336" y="624" width="1" height="5" fill="#c0c0c0" />
<rect x="344" y="621" width="1" height="8" fill="#c0c0c0" />
<rect x="352" y="621" width="1" height="8" fill="#c0c0c0" />
<rect x="360" y="621" width="1" height="8" fill="#c0c0c0" />
<rect x="368" y="621" width="1" height="8" fill="#c0c0c0" />
<rect x="376" y="622" width="1" height="7" fill="#c0c0c0" />
<rect x="384" y="625" width="1" height="4" fill="#c0c0c0" />
<rect x="392" y="627" width="1" height="2" fill="#c0c0c0" />
<rect x="400" y="627" width="1" height="2" fill="#c0c0c0" />
<rect x="408" y="627" width="1" height="2" fill="#c0c0c0" />
<rect x="416" y="628" width="1" height="1" fill="#c0c0c0" />
<rect x="424" y="628" width="1" height="4" fill="#c0c0c0" />
<rect x="432" y="628" width="1" height="7" fill="#c0c0c0" />
<rect x="440" y="628" width="1" height="9" fill="#c0c0c0" />
<rect x="448" y="628" width="1" height="14" fill="#c0c0c0" />
<rect x="456" y="628" width="1" height="17" fill="#c0c0c0" />
<rect x="464" y="628" width="1" height="19" fill="#c0c0c0" />
<rect x="472" y="628" width="1" height="16" fill="#c0c0c0" />
<rect x="480" y="628" width="1" height="16" fill="#c0c0c0" />
<rect x="488" y="628" width="1" height="16" fill="#c0c0c0" />
<rect x="496" y="628" width="1" height="16" fill="#c0c0c0" />
<rect x="504" y="628" width="1" height="16" fill="#c0c0c0" />
<rect x="512" y="628" width="1" height="16" fill="#c0c0c0" />
<rect x="520" y="628" width="1" height="12" fill="#c0c0c0" />
<rect x="528" y="628" width="1" height="10" fill="#c0c0c0" />
<rect x="536" y="628" width="1" height="8" fill="#c0c0c0" />
<rect x="544" y="628" width="1" height="6" fill="#c0c0c0" />
<rect x="552" y="628" width="1" height="4" fill="#c0c0c0" />
<rect x="560" y="628" width="1" height="1" fill="#c0c0c0" />
<rect x="568" y="621" width="1" height="8" fill="#c0c0c0" />
<rect x="576" y="617" width="1" height="12" fill="#c0c0c0" />
<rect x="584" y="612" width="1" height="17" fill="#c0c0c0" />
<rect x="592" y="608" width="1" height="21" fill="#c0c0c0" />
<rect x="600" y="603" width="1" height="26" fill="#c0c0c0" />
<rect x="608" y="599" width="1" height="30" fill="#c0c0c0" />
<rect x="616" y="597" width="1" height="32" fill="#c0c0c0" />
<rect x="624" y="596" width="1" height="33" fill="#c0c0c0" />
<rect x="632" y="599" width="1" height="30" fill="#c0c0c0" />
<rect x="640" y="603" width="1" height="26" fill="#c0c0c0" />
<rect x="648" y="606" width="1" height="23" fill="#c0c0c0" />
<rect x="656" y="606" width="1" height="23" fill="#c0c0c0" />
<rect x="664" y="608" width="1" height="21" fill="#c0c0c0" />
<rect x="672" y="610" width="1" height="19" fill="#c0c0c0" />
<rect x="680" y="615" width="1" height="14" fill="#c0c0c0" />
<rect x="688" y="620" width="1" height="9" fill="#c0c0c0" />
<rect x="696" y="625" width="1" height="4" fill="#c0c0c0" />
<rect x="704" y="625" width="1" height="4" fill="#c0c0c0" />
<rect x="712" y="624" width="1" height="5" fill="#c0c0c0" />
<rect x="720" y="627" width="1" height="2" fill="#c0c0c0" />
<rect x="728" y="628" width="1" height="1" fill="#c0c0c0" />
<rect x="736" y="628" width="1" height="2" fill="#c0c0c0" />
<rect x="744" y="628" width="1" height="5" fill="#c0c0c0" />
<rect x="752" y="628" width="1" height="8" fill="#c0c0c0" />
<rect x="760" y="628" width="1" height="8" fill="#c0c0c0" />
<rect x="768" y="628" width="1" height="5" fill="#c0c0c0" />
<rect x="776" y="628" width="1" height="3" fill="#c0c0c0" />
<rect x="784" y="628" width="1" height="2" fill="#c0c0c0" />
<rect x="792" y="628" width="1" height="2" fill="#c0c0c0" />
<rect x="800" y="628" width="1" height="1" fill="#c0c0c0" />
<rect x="808" y="627" width="1" height="2" fill="#c0c0c0" />
<rect x="816" y="624" width="1" height="5" fill="#c0c0c0" />
<rect x="824" y="621" width="1" height="8" fill="#c0c0c0" />
<rect x="832" y="619" width="1" height="10" fill="#c0c0c0" />
<rect x="840" y="617" width="1" height="12" fill="#c0c0c0" />
<rect x="848" y="618" width="1" height="11" fill="#c0c0c0" />
<rect x="856" y="618" width="1" height="11" fill="#c0c0c0" />
<rect x="864" y="618" width="1" height="11" fill="#c0c0c0" />
<rect x="872" y="618" width="1" height="11" fill="#c0c0c0" />
<rect x="880" y="619" width="1" height="10" fill="#c0c0c0" />
<rect x="888" y="618" width="1" height="11" fill="#c0c0c0" />
<rect x="896" y="618" width="1" height="11" fill="#c0c0c0" />
<rect x="904" y="614" width="1" height="15" fill="#c0c0c0" />
<rect x="912" y="612" width="1" height="17" fill="#c0c0c0" />
<rect x="920" y="611" width="1" height="18" fill="#c0c0c0" />
<rect x="928" y="609" width="1" height="20" fill="#c0c0c0" />
<rect x="936" y="607" width="1" height="22" fill="#c0c0c0" />
<rect x="944" y="604" width="1" height="25" fill="#c0c0c0" />
<rect x="952" y="600" width="1" height="29" fill="#c0c0c0" />
<rect x="960" y="597" width="1" height="32" fill="#c0c0c0" />
<rect x="968" y="591" width="1" height="38" fill="#c0c0c0" />
<rect x="976" y="588" width="1" height="41" fill="#c0c0c0" />
<rect x="984" y="585" width="1" height="44" fill="#c0c0c0" />
<rect x="992" y="584" width="1" height="45" fill="#c0c0c0" />
<rect x="1000" y="584" width="1" height="45" fill="#c0c0c0" />
<rect x="1008" y="583" width="1" height="46" fill="#c0c0c0" />
<rect x="1016" y="583" width="1" height="46" fill="#c0c0c0" />
<rect x="1024" y="585" width="1" height="44" fill="#c0c0c0" />
<rect x="1032" y="588" width="1" height="41" fill="#c0c0c0" />
<rect x="1040" y="589" width="1" height="40" fill="#c0c0c0" />
<rect x="1048" y="592" width="1" height="37" fill="#c0c0c0" />
<rect x="1056" y="594" width="1" height="35" fill="#c0c0c0" />
<rect x="1064" y="596" width="1" height="33" fill="#c0c0c0" />
<rect x="1072" y="597" width="1" height="32" fill="#c0c0c0" />
<rect x="1080" y="598" width="1" height="31" fill="#c0c0c0" />
<rect x="1088" y="599" width="1" height="30" fill="#c0c0c0" />
<rect x="1096" y="597" width="1" height="32" fill="#c0c0c0" />
<rect x="1104" y="599" width="1" height="30" fill="#c0c0c0" />
<rect x="1112" y="598" width="1" height="31" fill="#c0c0c0" />
<rect x="1120" y="601" width="1" height="28" fill="#c0c0c0" />
<rect x="1128" y="603" width="1" height="26" fill="#c0c0c0" />
<rect x="1136" y="606" width="1" height="23" fill="#c0c0c0" />
<rect x="1144" y="607" width="1" height="22" fill="#c0c0c0" />
<rect x="1152" y="606" width="1" height="23" fill="#c0c0c0" />
<rect x="1160" y="606" width="1" height="23" fill="#c0c0c0" />
<rect x="1168" y="603" width="1" height="26" fill="#c0c0c0" />
<rect x="1176" y="600" width="1" height="29" fill="#c0c0c0" />
<rect x="1184" y="598" width="1" height="31" fill="#c0c0c0" />
<rect x="1192" y="596" width="1" height="33" fill="#c0c0c0" />
<rect x="1200" y="596" width="1" height="33" fill="#c0c0c0" />
<rect x="1208" y="600" width="1" height="29" fill="#c0c0c0" />
<rect x="1216" y="600" width="1" height="29" fill="#c0c0c0" />
<rect x="1224" y="603" width="1" height="26" fill="#c0c0c0" />
<rect x="1232" y="607" width="1" height="22" fill="#c0c0c0" />
<rect x="1240" y="616" width="1" height="13" fill="#c0c0c0" />
<rect x="1248" y="622" width="1" height="7" fill="#c0c0c0" />
<rect x="1256" y="628" width="1" height="1" fill="#c0c0c0" />
<rect x="1264" y="628" width="1" height="8" fill="#c0c0c0" />
<rect x="1272" y="628" width="1" height="15" fill="#c0c0c0" />
<rect x="1280" y="628" width="1" height="18" fill="#c0c0c0" />
<rect x="1288" y="628" width="1" height="18" fill="#c0c0c0" />
<rect x="1296" y="628" width="1" height="18" fill="#c0c0c0" />
<rect x="1304" y="628" width="1" height="17" fill="#c0c0c0" />
<rect x="1312" y="628" width="1" height="17" fill="#c0c0c0" />
<rect x="1320" y="628" width="1" height="17" fill="#c0c0c0" />
<rect x="1328" y="628" width="1" height="18" fill="#c0c0c0" />
<rect x="1336" y="628" width="1" height="22" fill="#c0c0c0" />
<rect x="1344" y="628" width="1" height="25" fill="#c0c0c0" />
<rect x="1352" y="628" width="1" height="26" fill="#c0c0c0" />
<rect x="1360" y="628" width="1" height="26" fill="#c0c0c0" />
<rect x="1368" y="628" width="1" height="25" fill="#c0c0c0" />
<rect x="1376" y="628" width="1" height="24" fill="#c0c0c0" />
<rect x="1384" y="628" width="1" height="21" fill="#c0c0c0" />
<rect x="1392" y="628" width="1" height="19" fill="#c0c0c0" />
<rect x="1400" y="628" width="1" height="16" fill="#c0c0c0" />
<rect x="1408" y="628" width="1" height="13" fill="#c0c0c0" />
<rect x="1416" y="628" width="1" height="11" fill="#c0c0c0" />
<rect x="1424" y="628" width="1" height="7" fill="#c0c0c0" />
<rect x="1432" y="628" width="1" height="6" fill="#c0c0c0" />
<rect x="1440" y="628" width="1" height="6" fill="#c0c0c0" />
<rect x="1448" y="628" width="1" height="4" fill="#c0c0c0" />
<rect x="1456" y="628" width="1" height="1" fill="#c0c0c0" />
<rect x="1464" y="627" width="1" height="2" fill="#c0c0c0" />
<rect x="1472" y="624" width="1" height="5" fill="#c0c0c0" />
<rect x="1480" y="625" width="1" height="4" fill="#c0c0c0" />
<rect x="1488" y="624" width="1" height="5" fill="#c0c0c0" />
<rect x="1496" y="626" width="1" height="3" fill="#c0c0c0" />
<line x1="-1" y1="781.5" x2="1682" y2="781.5" stroke="#c0c0c0" stroke-width="1" stroke-dasharray="3,3"/>
<line x1="-1" y1="832.5" x2="1682" y2="832.5" stroke="#c0c0c0" stroke-width="1" stroke-dasharray="3,3"/>
<line x1="-1" y1="893.5" x2="1682" y2="893.5" stroke="#c0c0c0" stroke-width="1" stroke-dasharray="3,3"/>
<polyline points="0.5,637.5 17.2,637.0 28.4,637.9 37.5,641.3 48.5,646.5 56.3,654.3 64.5,663.5 73.0,675.5 80.5,685.5 88.5,696.1 97.2,706.3 104.5,712.5 112.0,717.5 120.5,719.9 128.5,718.5 137.1,713.5 145.5,706.3 154.5,696.1 164.1,685.0 173.4,674.4 182.5,665.5 191.9,658.0 201.2,652.5 210.5,647.5 223.5,642.2 234.5,637.2 247.5,631.5 260.5,626.5 268.2,622.5 279.3,620.5 290.5,620.1 309.1,621.2 314.5,622.3 333.3,624.0 337.0,625.1 364.5,624.5 377.5,624.0 383.5,622.9 403.5,622.9 409.5,624.0 420.5,625.5 433.5,627.3 439.2,629.5 448.5,632.0 457.5,634.2 465.2,636.8 476.4,639.8 487.5,641.5 495.0,643.1 504.2,645.0 513.5,645.9 524.5,645.0 537.5,644.1 547.0,641.5 558.1,639.4 567.5,636.5 576.5,632.0 584.2,628.8 591.5,626.4 600.9,620.5 608.4,616.5 617.5,612.1 627.0,607.5 634.5,606.0 643.5,603.2 656.5,601.9 667.5,601.9 680.5,604.1 690.2,607.5 699.5,611.2 710.5,613.5 721.5,617.5 732.5,621.2 744.1,625.5 753.4,627.9 764.5,630.1 775.5,632.0 785.0,632.9 809.1,632.9 816.5,631.5 825.5,629.5 837.0,627.0 848.2,624.0 859.3,622.3 870.5,620.5 885.4,618.0 904.0,617.7 917.0,616.5 930.0,614.9 941.1,612.5 952.3,609.7 961.5,607.8 970.9,604.5 982.0,600.0 993.2,595.7 1004.3,592.0 1017.3,587.9 1030.4,586.1 1052.5,586.1 1065.5,587.9 1076.5,590.2 1088.0,592.9 1106.5,595.7 1125.1,598.2 1138.2,600.0 1153.0,601.9 1170.5,602.8 1191.5,603.1 1202.1,601.5 1214.5,600.0 1235.5,600.0 1243.5,603.1 1252.1,604.8 1262.5,611.5 1272.9,618.3 1285.5,626.5 1295.5,632.9 1306.2,638.5 1318.5,643.3 1329.1,646.4 1341.5,647.5 1354.1,649.5 1366.5,650.5 1379.1,651.2 1399.9,651.5 1420.5,648.5 1441.5,643.3 1462.4,637.0 1472.5,633.9 1485.3,630.8 1497.2,627.5" fill="none" stroke="#ff0000" stroke-width="1" stroke-dasharray="3,3"/>
<polyline points="0.5,837.5 8.5,846.2 17.5,865.2 24.8,875.5 32.8,865.8 41.4,872.3 49.0,876.2 56.5,888.5 64.5,891.8 73.5,884.2 80.3,880.8 88.5,880.8 96.9,864.5 105.1,860.5 112.5,837.5 120.5,825.9 129.5,826.8 137.5,831.0 145.0,829.5 152.5,831.0 161.1,829.5 168.5,836.5 177.3,839.9 184.9,838.5 193.5,832.0 200.1,829.1 208.5,824.9 217.2,824.7 224.5,820.9 232.5,813.9 241.0,822.5 248.5,825.9 257.2,825.9 265.5,825.9 273.3,829.5 281.5,841.8 289.5,839.5 296.2,837.1 306.5,837.1 313.3,835.8 320.0,830.5 328.5,828.7 337.1,824.7 345.1,814.3 353.2,825.9 360.8,828.7 368.5,830.5 377.0,831.0 385.0,843.7 393.2,837.5 400.5,833.9 409.3,832.5 416.0,841.5 424.9,850.5 431.2,851.9 441.3,851.9 448.9,862.8 456.8,864.8 465.4,847.2 473.4,840.9 480.5,842.5 488.2,844.3 497.2,849.5 505.3,847.7 512.9,844.7 521.1,827.8 529.1,835.8 536.5,830.1 545.3,828.5 552.9,826.5 560.5,812.4 569.0,803.8 575.5,805.0 584.2,803.1 591.9,798.7 599.5,795.5 609.0,793.9 617.5,797.7 625.2,798.1 633.4,821.5 641.3,832.0 648.9,830.1 656.9,817.1 665.1,823.4 673.1,827.2 681.3,841.1 689.2,847.7 696.8,848.7 705.0,830.5 713.0,828.7 721.2,839.5 728.8,839.0 737.0,845.5 744.9,847.2 752.9,848.7 761.1,839.5 768.7,831.4 777.3,831.0 784.9,830.1 793.4,830.1 801.0,826.5 808.5,822.1 816.8,813.9 824.8,814.8 833.4,811.5 841.0,812.9 848.9,825.7 857.1,824.0 864.7,820.9 873.3,825.9 881.0,824.7 888.9,824.7 897.1,812.0 905.1,803.8 913.3,805.0 920.9,803.8 928.5,798.3 936.5,796.8 945.0,789.2 953.2,785.4 961.2,782.0 969.0,774.9 977.0,777.8 984.9,779.1 993.1,783.9 1001.5,783.9 1009.3,781.0 1016.9,779.7 1025.1,801.5 1033.5,801.5 1040.5,799.1 1049.2,805.0 1057.2,806.9 1065.4,803.8 1073.0,801.0 1080.5,799.1 1089.1,799.1 1097.1,783.9 1104.9,814.8 1112.9,805.3 1121.1,823.8 1129.1,824.0 1136.5,826.8 1145.2,817.7 1153.2,811.0 1160.8,813.9 1168.8,801.8 1174.0,800.7 1185.5,800.7 1192.8,797.5 1201.1,806.5 1209.0,819.9 1216.7,816.7 1225.0,823.5 1232.3,833.5 1241.1,853.4 1249.0,849.5 1256.5,862.8 1264.5,864.2 1272.9,862.1 1281.3,856.9 1289.0,851.5 1296.9,841.9 1304.2,840.5 1313.5,845.9 1320.8,844.9 1328.5,854.2 1337.1,860.5 1344.8,863.2 1353.1,856.9 1360.5,859.0 1368.5,854.5 1377.0,838.8 1384.3,840.3 1393.1,833.5 1401.0,836.1 1409.3,830.5 1417.0,831.5 1425.3,823.5 1432.8,837.8 1441.2,833.5 1449.3,830.5 1457.2,819.9 1464.5,821.1 1472.2,817.0 1481.1,835.1 1489.5,825.7 1496.1,837.1" fill="none" stroke="#1e90ff" stroke-width="1" />
<rect x="0" y="18" width="1683" height="1" fill="#000" />
<rect x="0" y="571" width="1683" height="1" fill="#000" />
<rect x="0" y="573" width="1683" height="1" fill="#000" />
<rect x="0" y="743" width="1683" height="1" fill="#000" />
<rect x="0" y="745" width="1683" height="1" fill="#000" />
<rect x="0" y="919" width="1683" height="1" fill="#000" />
<rect x="1682" y="18" width="1" height="902" fill="#000" />
<rect x="0" y="572" width="1690" height="1" fill="#fff" />
<rect x="0" y="744" width="1690" height="1" fill="#fff" />
<rect x="1683" y="40" width="2" height="1" fill="#000" />
<rect x="1683" y="73" width="2" height="1" fill="#000" />
<rect x="1683" y="106" width="2" height="1" fill="#000" />
<rect x="1683" y="139" width="2" height="1" fill="#000" />
<rect x="1683" y="172" width="2" height="1" fill="#000" />
<rect x="1683" y="205" width="2" height="1" fill="#000" />
<rect x="1683" y="238" width="2" height="1" fill="#000" />
<rect x="1683" y="271" width="2" height="1" fill="#000" />
<rect x="1683" y="304" width="2" height="1" fill="#000" />
<rect x="1683" y="337" width="2" height="1" fill="#000" />
<rect x="1683" y="370" width="2" height="1" fill="#000" />
<rect x="1683" y="403" width="2" height="1" fill="#000" />
<rect x="1683" y="436" width="2" height="1" fill="#000" />
<rect x="1683" y="469" width="2" height="1" fill="#000" />
<rect x="1683" y="502" width="2" height="1" fill="#000" />
<rect x="1683" y="535" width="2" height="1" fill="#000" />
<rect x="1683" y="568" width="2" height="1" fill="#000" />
<rect x="1683" y="575" width="1" height="1" fill="#000" />
<rect x="1683" y="628" width="1" height="1" fill="#000" />
<rect x="1683" y="742" width="1" height="1" fill="#000" />
<rect x="1683" y="747" width="1" height="1" fill="#000" />
<rect x="1683" y="918" width="1" height="1" fill="#000" />
<rect x="56" y="920" width="1" height="3" fill="#000" />
<rect x="120" y="920" width="1" height="3" fill="#000" />
<rect x="184" y="920" width="1" height="3" fill="#000" />
<rect x="248" y="920" width="1" height="3" fill="#000" />
<rect x="312" y="920" width="1" height="3" fill="#000" />
<rect x="376" y="920" width="1" height="3" fill="#000" />
<rect x="440" y="920" width="1" height="3" fill="#000" />
<rect x="504" y="920" width="1" height="3" fill="#000" />
<rect x="568" y="920" width="1" height="3" fill="#000" />
<rect x="632" y="920" width="1" height="3" fill="#000" />
<rect x="696" y="920" width="1" height="3" fill="#000" />
<rect x="760" y="920" width="1" height="3" fill="#000" />
<rect x="824" y="920" width="1" height="3" fill="#000" />
<rect x="888" y="920" width="1" height="3" fill="#000" />
<rect x="952" y="920" width="1" height="3" fill="#000" />
<rect x="1016" y="920" width="1" height="3" fill="#000" />
<rect x="1080" y="920" width="1" height="3" fill="#000" />
<rect x="1144" y="920" width="1" height="3" fill="#000" />
<rect x="1208" y="920" width="1" height="3" fill="#000" />
<rect x="1272" y="920" width="1" height="3" fill="#000" />
<rect x="1336" y="920" width="1" height="3" fill="#000" />
<rect x="1400" y="920" width="1" height="3" fill="#000" />
<rect x="1464" y="920" width="1" height="3" fill="#000" />
<rect x="1728" y="16" width="1" height="920" fill="#e3e3e3" />
<polygon points="1506,19 1517,19 1511.5,24.5" fill="#a9a9a9" shape-rendering="auto"/>
</g>
<rect x="553.5" y="204.5" width="61" height="18" fill="#fff" stroke="#ff0000" stroke-width="1" shape-rendering="crispEdges"/>
<text x="555.5" y="219" font-size="16" fill="#ff0000" font-family="Liberation Sans, sans-serif" >1.28016</text>
<rect x="615" y="213" width="9" height="1" fill="#ff0000" shape-rendering="crispEdges"/>
<rect x="1121.5" y="37.5" width="61" height="18" fill="#fff" stroke="#ff0000" stroke-width="1" shape-rendering="crispEdges"/>
<text x="1123.5" y="52" font-size="16" fill="#ff0000" font-family="Liberation Sans, sans-serif" >1.34760</text>
<rect x="1183" y="45" width="9" height="1" fill="#ff0000" shape-rendering="crispEdges"/>
<rect x="1123.5" y="161.5" width="74" height="24" fill="#fff" stroke="#ff0000" stroke-width="1" shape-rendering="crispEdges"/>
<text x="1126" y="180.3" font-size="19.2" fill="#ff0000" font-family="Liberation Sans, sans-serif" >1.29631</text>
<rect x="1113" y="173" width="8" height="1" fill="#ff0000" shape-rendering="crispEdges"/>
<rect x="1119.5" y="171.5" width="3" height="3" fill="#fff" stroke="#ff0000" stroke-width="1" shape-rendering="crispEdges"/>
<rect x="1401.5" y="135.5" width="61" height="18" fill="#fff" stroke="#ff0000" stroke-width="1" shape-rendering="crispEdges"/>
<text x="1403.5" y="150" font-size="16" fill="#ff0000" font-family="Liberation Sans, sans-serif" >1.30802</text>
<rect x="1463" y="144" width="9" height="1" fill="#ff0000" shape-rendering="crispEdges"/>
<rect x="1265.5" y="236.5" width="61" height="18" fill="#fff" stroke="#ff0000" stroke-width="1" shape-rendering="crispEdges"/>
<text x="1267.5" y="251" font-size="16" fill="#ff0000" font-family="Liberation Sans, sans-serif" >1.26724</text>
<rect x="1327" y="245" width="10" height="1" fill="#ff0000" shape-rendering="crispEdges"/>
<line x1="1345.5" y1="240" x2="1460.9" y2="155.9" stroke="#ff0000" stroke-width="3.4" stroke-linecap="butt"/>
<polygon points="1469.0,150.0 1462.5,161.5 1456.1,152.6" fill="#ff0000"/>
<line x1="1468" y1="150" x2="1491.7" y2="182.2" stroke="#ff0000" stroke-width="3.4" stroke-linecap="butt"/>
<polygon points="1497.0,189.5 1486.5,183.6 1494.5,177.7" fill="#ff0000"/>
<line x1="1353.5" y1="656.5" x2="1481.1" y2="635.1" stroke="#ff0000" stroke-width="3.6" stroke-linecap="butt"/>
<polygon points="1491.0,633.5 1480.0,640.4 1478.3,630.5" fill="#ff0000"/>
<line x1="1351" y1="857.5" x2="1458.7" y2="814.2" stroke="#ff0000" stroke-width="3.4" stroke-linecap="butt"/>
<polygon points="1468.0,810.5 1458.9,820.1 1454.8,809.9" fill="#ff0000"/>
<line x1="1467" y1="810.5" x2="1488.4" y2="830.4" stroke="#ff0000" stroke-width="3.4" stroke-linecap="butt"/>
<polygon points="1495.0,836.5 1483.5,832.7 1490.3,825.4" fill="#ff0000"/>
<g transform="translate(1530,132) scale(0.0752)" fill="none" stroke="#00ff00" stroke-width="22" stroke-linecap="butt">
<path d="M235,108 L125,190 M210,152 L340,152 L255,222 L120,250 M195,185 L245,215 M250,232 L135,300 M245,250 L350,250 L240,330 L120,352 M210,285 L255,310"/>
<path d="M545,108 L545,140 M425,190 L425,150 L675,150 L650,185 M510,175 L440,235 M580,175 L655,215 M470,255 L625,255 M545,255 L545,340 M420,340 L670,340"/>
<path d="M725,155 L820,155 M780,108 L740,215 M730,225 L830,215 M785,108 L785,355 M725,295 L830,280 M850,150 L975,150 M835,210 L985,210 M905,108 L870,258 L965,258 L900,300 M885,300 L940,350"/>
<path d="M1030,180 L1110,180 M1075,108 L1075,345 L1040,345 M1030,260 L1115,235 M1270,115 L1150,150 M1150,150 L1150,260 L1105,350 M1150,205 L1290,205 M1225,205 L1225,355"/>
<path d="M1465,108 L1465,200 M1465,150 L1575,150 M1385,200 L1385,290 L1545,290 L1545,200 Z M1375,310 L1350,355 M1430,315 L1440,350 M1490,315 L1505,350 M1555,310 L1585,355"/>
</g>
<rect x="1684" y="123" width="41" height="11" fill="#ff0000" shape-rendering="crispEdges"/>
<rect x="1684" y="148" width="41" height="11" fill="#ff4500" shape-rendering="crispEdges"/>
<rect x="1684" y="167" width="41" height="11" fill="#32cd32" shape-rendering="crispEdges"/>
<rect x="1684" y="182" width="41" height="11" fill="#000000" shape-rendering="crispEdges"/>
<rect x="1684" y="201" width="41" height="11" fill="#0000ff" shape-rendering="crispEdges"/>
<rect x="1684" y="215" width="41" height="11" fill="#0000ff" shape-rendering="crispEdges"/>
<text transform="translate(1688.3 43.8) scale(0.895 1)" font-size="10" fill="#000" font-family="Liberation Sans, sans-serif" >1.35040</text>
<text transform="translate(1688.3 76.8) scale(0.895 1)" font-size="10" fill="#000" font-family="Liberation Sans, sans-serif" >1.33680</text>
<text transform="translate(1688.3 109.8) scale(0.895 1)" font-size="10" fill="#000" font-family="Liberation Sans, sans-serif" >1.32360</text>
<text transform="translate(1688.3 142.8) scale(0.895 1)" font-size="10" fill="#000" font-family="Liberation Sans, sans-serif" >1.31000</text>
<text transform="translate(1688.3 241.8) scale(0.895 1)" font-size="10" fill="#000" font-family="Liberation Sans, sans-serif" >1.27000</text>
<text transform="translate(1688.3 274.8) scale(0.895 1)" font-size="10" fill="#000" font-family="Liberation Sans, sans-serif" >1.25680</text>
<text transform="translate(1688.3 307.8) scale(0.895 1)" font-size="10" fill="#000" font-family="Liberation Sans, sans-serif" >1.24360</text>
<text transform="translate(1688.3 340.8) scale(0.895 1)" font-size="10" fill="#000" font-family="Liberation Sans, sans-serif" >1.23000</text>
<text transform="translate(1688.3 373.8) scale(0.895 1)" font-size="10" fill="#000" font-family="Liberation Sans, sans-serif" >1.21680</text>
<text transform="translate(1688.3 406.8) scale(0.895 1)" font-size="10" fill="#000" font-family="Liberation Sans, sans-serif" >1.20320</text>
<text transform="translate(1688.3 439.8) scale(0.895 1)" font-size="10" fill="#000" font-family="Liberation Sans, sans-serif" >1.19000</text>
<text transform="translate(1688.3 472.8) scale(0.895 1)" font-size="10" fill="#000" font-family="Liberation Sans, sans-serif" >1.17680</text>
<text transform="translate(1688.3 505.8) scale(0.895 1)" font-size="10" fill="#000" font-family="Liberation Sans, sans-serif" >1.16320</text>
<text transform="translate(1688.3 538.8) scale(0.895 1)" font-size="10" fill="#000" font-family="Liberation Sans, sans-serif" >1.15000</text>
<text transform="translate(1688.3 571.8) scale(0.895 1)" font-size="10" fill="#000" font-family="Liberation Sans, sans-serif" >1.13680</text>
<text transform="translate(1688.3 132.0) scale(0.895 1)" font-size="10" fill="#fff" font-family="Liberation Sans, sans-serif" >1.31408</text>
<text transform="translate(1688.3 157.0) scale(0.895 1)" font-size="10" fill="#fff" font-family="Liberation Sans, sans-serif" >1.30399</text>
<text transform="translate(1688.3 176.0) scale(0.895 1)" font-size="10" fill="#fff" font-family="Liberation Sans, sans-serif" >1.29631</text>
<text transform="translate(1688.3 191.0) scale(0.895 1)" font-size="10" fill="#fff" font-family="Liberation Sans, sans-serif" >1.29074</text>
<text transform="translate(1688.3 210.0) scale(0.895 1)" font-size="10" fill="#fff" font-family="Liberation Sans, sans-serif" >1.28258</text>
<text transform="translate(1688.3 224.0) scale(0.895 1)" font-size="10" fill="#fff" font-family="Liberation Sans, sans-serif" >1.27693</text>
<text transform="translate(1686 584.2) scale(0.895 1)" font-size="10" fill="#000" font-family="Liberation Sans, sans-serif" >0.017833</text>
<text transform="translate(1686 632) scale(0.895 1)" font-size="10" fill="#000" font-family="Liberation Sans, sans-serif" >0.00</text>
<text transform="translate(1686 740.2) scale(0.895 1)" font-size="10" fill="#000" font-family="Liberation Sans, sans-serif" >-0.038559</text>
<text transform="translate(1686 756.2) scale(0.895 1)" font-size="10" fill="#000" font-family="Liberation Sans, sans-serif" >100</text>
<text transform="translate(1685 785) scale(0.895 1)" font-size="10" fill="#000" font-family="Liberation Sans, sans-serif" >80</text>
<text transform="translate(1685 836.2) scale(0.895 1)" font-size="10" fill="#000" font-family="Liberation Sans, sans-serif" >50</text>
<text transform="translate(1685 897.2) scale(0.895 1)" font-size="10" fill="#000" font-family="Liberation Sans, sans-serif" >15</text>
<text transform="translate(1685.5 916.2) scale(0.895 1)" font-size="10" fill="#000" font-family="Liberation Sans, sans-serif" >0</text>
<text transform="translate(-9 932.6) scale(0.928 1)" font-size="10" fill="#000" font-family="Liberation Sans, sans-serif" >9 Mar 2020</text>
<text transform="translate(55 932.6) scale(0.928 1)" font-size="10" fill="#000" font-family="Liberation Sans, sans-serif" >18 Mar 2020</text>
<text transform="translate(119 932.6) scale(0.928 1)" font-size="10" fill="#000" font-family="Liberation Sans, sans-serif" >27 Mar 2020</text>
<text transform="translate(183 932.6) scale(0.928 1)" font-size="10" fill="#000" font-family="Liberation Sans, sans-serif" >6 Apr 2020</text>
<text transform="translate(247 932.6) scale(0.928 1)" font-size="10" fill="#000" font-family="Liberation Sans, sans-serif" >16 Apr 2020</text>
<text transform="translate(311 932.6) scale(0.928 1)" font-size="10" fill="#000" font-family="Liberation Sans, sans-serif" >26 Apr 2020</text>
<text transform="translate(375 932.6) scale(0.928 1)" font-size="10" fill="#000" font-family="Liberation Sans, sans-serif" >5 May 2020</text>
<text transform="translate(439 932.6) scale(0.928 1)" font-size="10" fill="#000" font-family="Liberation Sans, sans-serif" >14 May 2020</text>
<text transform="translate(503 932.6) scale(0.928 1)" font-size="10" fill="#000" font-family="Liberation Sans, sans-serif" >24 May 2020</text>
<text transform="translate(567 932.6) scale(0.928 1)" font-size="10" fill="#000" font-family="Liberation Sans, sans-serif" >2 Jun 2020</text>
<text transform="translate(631 932.6) scale(0.928 1)" font-size="10" fill="#000" font-family="Liberation Sans, sans-serif" >11 Jun 2020</text>
<text transform="translate(695 932.6) scale(0.928 1)" font-size="10" fill="#000" font-family="Liberation Sans, sans-serif" >21 Jun 2020</text>
<text transform="translate(759 932.6) scale(0.928 1)" font-size="10" fill="#000" font-family="Liberation Sans, sans-serif" >30 Jun 2020</text>
<text transform="translate(823 932.6) scale(0.928 1)" font-size="10" fill="#000" font-family="Liberation Sans, sans-serif" >9 Jul 2020</text>
<text transform="translate(887 932.6) scale(0.928 1)" font-size="10" fill="#000" font-family="Liberation Sans, sans-serif" >19 Jul 2020</text>
<text transform="translate(951 932.6) scale(0.928 1)" font-size="10" fill="#000" font-family="Liberation Sans, sans-serif" >28 Jul 2020</text>
<text transform="translate(1015 932.6) scale(0.928 1)" font-size="10" fill="#000" font-family="Liberation Sans, sans-serif" >6 Aug 2020</text>
<text transform="translate(1079 932.6) scale(0.928 1)" font-size="10" fill="#000" font-family="Liberation Sans, sans-serif" >16 Aug 2020</text>
<text transform="translate(1143 932.6) scale(0.928 1)" font-size="10" fill="#000" font-family="Liberation Sans, sans-serif" >25 Aug 2020</text>
<text transform="translate(1207 932.6) scale(0.928 1)" font-size="10" fill="#000" font-family="Liberation Sans, sans-serif" >3 Sep 2020</text>
<text transform="translate(1271 932.6) scale(0.928 1)" font-size="10" fill="#000" font-family="Liberation Sans, sans-serif" >13 Sep 2020</text>
<text transform="translate(1335 932.6) scale(0.928 1)" font-size="10" fill="#000" font-family="Liberation Sans, sans-serif" >22 Sep 2020</text>
<text transform="translate(1399 932.6) scale(0.928 1)" font-size="10" fill="#000" font-family="Liberation Sans, sans-serif" >1 Oct 2020</text>
<text transform="translate(1463 932.6) scale(0.928 1)" font-size="10" fill="#000" font-family="Liberation Sans, sans-serif" >11 Oct 2020</text>
<text transform="translate(7.3 30.4) scale(0.936 1)" font-size="10" fill="#000" font-family="Liberation Sans, sans-serif" >GBPUSD-,Daily</text>
<text transform="translate(80.7 30.4) scale(0.917 1)" font-size="10" fill="#000" font-family="Liberation Sans, sans-serif" >1.30108 1.30287 1.28893 1.29074</text>
<polygon points="0,29 0,26 2.5,29" fill="#000"/>
<text transform="translate(-2.5 586.9) scale(0.926 1)" font-size="10" fill="#000" font-family="Liberation Sans, sans-serif" >MACD(12,26,9) 0.000936 -0.000102</text>
<text transform="translate(-3 758.3) scale(0.906 1)" font-size="10" fill="#000" font-family="Liberation Sans, sans-serif" >RSI(14) 47.5140</text>
</svg>
<svg width="1729" height="18" viewBox="0 0 1729 18" style="position:absolute;left:0;top:0">
<defs>
<pattern id="hat" width="2" height="2" patternUnits="userSpaceOnUse"><rect width="2" height="2" fill="#f0f0f0"/><rect width="1" height="1" fill="#fbfbfb"/><rect x="1" y="1" width="1" height="1" fill="#fbfbfb"/></pattern>
<clipPath id="tbc"><rect x="0" y="0" width="1729" height="13"/></clipPath>
</defs>
<rect x="0" y="0" width="1729" height="13" fill="#f0f0f0"/>
<rect x="0" y="13" width="1729" height="1" fill="#d8d8d8"/>
<rect x="0" y="14" width="1729" height="1" fill="#9a9a9a"/>
<rect x="0" y="15" width="1729" height="1" fill="#6e6e6e"/>
<rect x="0" y="16" width="1728" height="2" fill="#ffffff"/>
<g clip-path="url(#tbc)">
<!-- doc icon -->
<rect x="-2" y="-3" width="7.5" height="11" fill="#fff" stroke="#3a78c8" stroke-width="1.2"/>
<rect x="0" y="1" width="5" height="1" fill="#9cc0ee"/><rect x="0" y="4" width="5" height="1" fill="#9cc0ee"/>
<!-- magnifier -->
<rect x="18.5" y="-2" width="9" height="9" fill="#fafafa" stroke="#b0b0b0" stroke-width="1"/>
<circle cx="26.5" cy="2" r="5.3" fill="#dbe9f8" stroke="#8fb4e6" stroke-width="1.3"/>
<path d="M24.5,-1 L28,-1 L27.5,4 L25,4 Z" fill="#8898a8"/>
<line x1="30.5" y1="6.5" x2="35" y2="11" stroke="#d29a20" stroke-width="2.4"/>
<rect x="43" y="0" width="1" height="12" fill="#a8a8a8"/>
<!-- new order -->
<rect x="53.5" y="-3" width="8.5" height="10.5" fill="#fff" stroke="#7a7a7a" stroke-width="1"/>
<rect x="55" y="1" width="5" height="1" fill="#909090"/><rect x="55" y="3.5" width="5" height="1" fill="#909090"/>
<path d="M61,-1 h4 v4.2 h4 v4 h-4 v4.3 h-4 v-4.3 h-4 v-4 h4 z" fill="#14c814" stroke="#0a9a0a" stroke-width="0.7"/>
<!-- chinese text approx 新订单 -->
<g stroke="#000" stroke-width="1.1" fill="none" transform="translate(72.5 0) scale(0.92 1) translate(-73 0)">
<path d="M73,2.5 h8 M77,-2 v7.5 M74,5 l2,-2 M80,5 l-1.5,-2 M83,-2 v5 l-1.5,2.5 M83,0 h3.5 M86.5,0 v6"/>
<path d="M90,0 l1,1 M90,2 h1.5 v3.5 l1,-1 M93,-0.5 h6.5 M97.5,-0.5 v5.5 l-2,0.5"/>
<path d="M101.5,3.5 h10 M103.5,-2 v3 h6.5 v-3 M103.5,1 h6.5 M106.8,-2 v8.5"/>
</g>
<!-- gold book -->
<path d="M120.5,3 L130,-2 L136.5,2 L136,5 L127,9.5 L120.5,4.5 Z" fill="#d9a526" stroke="#a87410" stroke-width="0.8"/>
<path d="M121,3.2 L127.5,7 L136,2.5" fill="none" stroke="#f8de7a" stroke-width="1.4"/>
<path d="M123,1.5 L130,-1.5 L134.5,1 L127.5,4.5 Z" fill="#f3cd52"/>
<!-- cloud -->
<rect x="151" y="-2" width="9" height="5" fill="#3b8be0"/>
<rect x="154.5" y="-2" width="2" height="4" fill="#e8f2ff"/>
<path d="M150,9 a3,3 0 0 1 0.5,-5.8 a3.4,3.4 0 0 1 6,-1.2 a3,3 0 0 1 4.6,1.7 a2.7,2.7 0 0 1 0.4,5.3 z" fill="#f4f7fb" stroke="#8da6c8" stroke-width="1"/>
<!-- signal -->
<path d="M183,-5 a9,9 0 0 0 0,15.5" fill="none" stroke="#b4c6ee" stroke-width="1"/>
<path d="M182,-3 a7,7 0 0 0 0,11.5" fill="none" stroke="#86a4e6" stroke-width="1.1"/>
<path d="M182,-1 a4.5,4.5 0 0 0 0,7.5" fill="none" stroke="#5a80dc" stroke-width="1.1"/>
<path d="M184.5,-5 a8,8 0 0 1 0,15.2 z" fill="#86c086"/>
<path d="M184.2,1 v9.3 h1.8 v-9.3 z" fill="#1fa81f"/>
<circle cx="184" cy="0.5" r="2" fill="#2860d8"/>
<!-- auto trading -->
<path d="M203.5,-2 h13 l-4,7 l-4,3.5 z" fill="#f2d24a" stroke="#d8a820" stroke-width="0.8"/>
<path d="M203.5,-2 h13 l-1,2 h-11 z" fill="#58b0e8"/>
<circle cx="215.3" cy="5.6" r="4.2" fill="#d82a1a" stroke="#b01808" stroke-width="0.6"/>
<rect x="213.6" y="4" width="3.4" height="3.2" fill="#fff"/>
<g stroke="#000" stroke-width="1.1" fill="none">
<path d="M226.5,-2 v7.5 h7 v-7.5 M226.5,0.5 h7 M226.5,3 h7"/>
<path d="M237,0 h4 M237,2.5 h4.5 l-1.5,3 M239,2.5 l-2,3 M243.5,-2 v4 M243.5,0 h3 v5 l-1.5,0.5 M243.5,2 l-1,3.5"/>
<path d="M249,-0.5 h10 M251.5,0.5 l-2,2.5 M256,0.5 l2.5,2.5 M257,1.5 l-7.5,4.5 M251,1.5 l7.5,4.5"/>
<path d="M262.5,-2 v2 h7 v-2 M262.5,0 h7 M263,2 h8 v3.5 l-1.5,0.5 M264.5,2 l-2.5,3.5 M267,2 l-2.5,4 M269,2 l-2,4"/>
</g>
<rect x="279" y="0" width="1" height="12" fill="#a8a8a8"/>
<g fill="#b4b4b4"><rect x="282.5" y="0" width="3" height="1"/><rect x="282.5" y="2" width="3" height="1"/><rect x="282.5" y="4" width="3" height="1"/><rect x="282.5" y="6" width="3" height="1"/><rect x="282.5" y="8" width="3" height="1"/><rect x="282.5" y="10" width="3" height="1"/></g>
<!-- bar chart icon -->
<g stroke="#404040" stroke-width="1" fill="none"><path d="M297.5,-2 v11.5 M295,7.5 h14 M307,6 l2,1.5 l-2,1.5"/></g>
<path d="M303.5,-2 v7 M301,4.5 h2.5" stroke="#10a010" stroke-width="1.2" fill="none"/>
<rect x="317" y="0" width="1" height="12" fill="#a8a8a8"/>
<rect x="319" y="0" width="23" height="12" fill="url(#hat)"/>
<g stroke="#404040" stroke-width="1" fill="none"><path d="M325.5,-2 v11.5 M323,7.5 h14 M335,6 l2,1.5 l-2,1.5"/></g>
<rect x="329.5" y="-2" width="4.5" height="6" fill="#10c010" stroke="#0a800a" stroke-width="0.6"/><rect x="331.3" y="4" width="1" height="2" fill="#0a800a"/>
<g stroke="#404040" stroke-width="1" fill="none"><path d="M353.5,-2 v11.5 M351,7.5 h14 M363,6 l2,1.5 l-2,1.5"/></g>
<path d="M352,5 l5.5,-6 l3,3 l3,1" stroke="#10a010" stroke-width="1.1" fill="none"/>
<rect x="374" y="0" width="1" height="12" fill="#a8a8a8"/>
<!-- zoom in/out -->
<circle cx="389.5" cy="-0.5" r="5.6" fill="#d8eafa" stroke="#4a90e0" stroke-width="1.5"/>
<path d="M386.5,0.7 h6 M389.5,-2 v4" stroke="#3a78c8" stroke-width="1.3"/>
<line x1="393.5" y1="4" x2="398" y2="9" stroke="#d8b030" stroke-width="2.6"/>
<circle cx="417.5" cy="-0.5" r="5.6" fill="#d8eafa" stroke="#4a90e0" stroke-width="1.5"/>
<path d="M414.5,0.7 h6" stroke="#3a78c8" stroke-width="1.3"/>
<line x1="421.5" y1="4" x2="426.5" y2="9" stroke="#d8b030" stroke-width="2.6"/>
<!-- tile -->
<rect x="439" y="-2" width="7.5" height="4" fill="#38a038"/><rect x="447.5" y="-2" width="7.5" height="4" fill="#3868d8"/>
<rect x="439" y="3" width="7.5" height="6.5" fill="#3868d8"/><rect x="447.5" y="3" width="7.5" height="6.5" fill="#38a038"/>
<rect x="440" y="5.5" width="5.5" height="3" fill="#eef2ff"/><rect x="448.5" y="5.5" width="5.5" height="3" fill="#eefaee"/>
<rect x="464" y="0" width="1" height="12" fill="#a8a8a8"/><rect x="469" y="0" width="1" height="12" fill="#a8a8a8"/>
<rect x="470.5" y="0" width="24" height="12" fill="url(#hat)"/>
<g stroke="#404040" stroke-width="1" fill="none"><path d="M477.5,-2 v11 M475,7.2 h14 M487,5.7 l2,1.5 l-2,1.5"/></g>
<path d="M482.5,-1 l4,2 l-4,2.5 z" fill="#18b818"/>
<rect x="497" y="0" width="1" height="12" fill="#a8a8a8"/>
<rect x="499" y="0" width="23.5" height="12" fill="url(#hat)"/>
<g stroke="#404040" stroke-width="1" fill="none"><path d="M505.5,-2 v11 M503,7.2 h14 M515,5.7 l2,1.5 l-2,1.5"/></g>
<path d="M511.5,-2 v6" stroke="#3060c0" stroke-width="1"/><path d="M512.5,1.5 l4,-2 v4 z" fill="#e04010"/>
<rect x="526" y="0" width="1" height="12" fill="#a8a8a8"/>
<rect x="536.5" y="-3" width="10" height="10" fill="#fff" stroke="#7a7a7a" stroke-width="1"/>
<path d="M544.5,-1 h4 v4.4 h3.7 v4 h-3.7 v4.2 h-4 v-4.2 h-3.9 v-4 h3.9 z" fill="#14c814" stroke="#0a9a0a" stroke-width="0.7"/>
<path d="M558,1 h6 l-3,3.2 z" fill="#000"/>
<circle cx="582" cy="1.5" r="7" fill="#fff" stroke="#1c60d0" stroke-width="2.6"/>
<path d="M582,-3 v4.5 h3" stroke="#606060" stroke-width="1" fill="none"/>
<path d="M597,1 h6 l-3,3.2 z" fill="#000"/>
<rect x="613.5" y="-3" width="15" height="11.5" fill="#fff" stroke="#3a78c8" stroke-width="1.2"/>
<path d="M615,0 h12" stroke="#c03020" stroke-width="1.3"/><path d="M615,3 h12" stroke="#3a78c8" stroke-width="0.8"/>
<path d="M616,6 l2,-1 l2,1 l2,-1.5 l2,1 l2,-0.5" stroke="#20a020" stroke-width="1" fill="none"/>
<path d="M636,1 h6 l-3,3.2 z" fill="#000"/>
<rect x="647" y="0" width="1" height="12" fill="#a8a8a8"/>
<g fill="#b4b4b4"><rect x="650.5" y="0" width="3" height="1"/><rect x="650.5" y="2" width="3" height="1"/><rect x="650.5" y="4" width="3" height="1"/><rect x="650.5" y="6" width="3" height="1"/><rect x="650.5" y="8" width="3" height="1"/><rect x="650.5" y="10" width="3" height="1"/></g>
<rect x="657" y="0" width="1" height="12" fill="#a8a8a8"/>
<rect x="659" y="0" width="23" height="7" fill="url(#hat)"/>
<path d="M665.5,-4 v10 l2.2,-2.2 l2,4.5 l1.8,-0.8 l-2,-4.3 h3.2 z" fill="#303030"/>
<path d="M690,2.5 h15 M697.5,-2 v11" stroke="#404040" stroke-width="1"/>
<rect x="714" y="0" width="1" height="12" fill="#a8a8a8"/>
<rect x="731" y="-2" width="1" height="11" fill="#404040"/>
<rect x="754" y="2" width="12.5" height="1" fill="#404040"/>
<line x1="782" y1="9" x2="792.5" y2="-1" stroke="#404040" stroke-width="1.1"/>
<g stroke="#404040" stroke-width="0.9"><path d="M808,7 l10,-9 M811,8 l10,-9 M809,1 h10 M808.5,4 h10"/></g>
<path d="M819.5,6 v4.5 h3.5 M819.5,8.2 h3 M819.5,6 h3.5" stroke="#303030" stroke-width="1" fill="none"/>
<path d="M837,2.5 h13 M837,6.5 h9" stroke="#404040" stroke-width="1" stroke-dasharray="1,1"/>
<path d="M847.5,10.5 v-4.5 h3.5 M847.5,8.2 h3" stroke="#303030" stroke-width="1" fill="none"/>
<path d="M868.3,7 l3.7,-9.5 l3.7,9.5 M869.8,3.5 h4.5" stroke="#404040" stroke-width="1.2" fill="none"/>
<rect x="894.5" y="-2" width="11" height="10.5" fill="none" stroke="#404040" stroke-width="1" stroke-dasharray="1,1"/>
<rect x="899.5" y="-2" width="1.5" height="8.5" fill="#404040"/>
<path d="M923,1 l2.5,2.5 l4,-5" stroke="#404040" stroke-width="1.4" fill="none"/><path d="M930,3.5 l3,-2.8 l3,2.8 l-3,2.8 z" fill="#303030"/>
<path d="M942,1 h6 l-3,3.2 z" fill="#000"/>
<rect x="953" y="0" width="1" height="12" fill="#a8a8a8"/>
<g fill="#b4b4b4"><rect x="956.5" y="0" width="3" height="1"/><rect x="956.5" y="2" width="3" height="1"/><rect x="956.5" y="4" width="3" height="1"/><rect x="956.5" y="6" width="3" height="1"/><rect x="956.5" y="8" width="3" height="1"/><rect x="956.5" y="10" width="3" height="1"/></g>
<rect x="1131" y="0" width="1" height="12" fill="#a8a8a8"/>
<rect x="1132" y="0" width="24" height="11" fill="url(#hat)"/>
<g font-family="Liberation Sans, sans-serif" font-size="10" fill="#505050">
<text x="968" y="5.3">M1</text><text x="996.5" y="5.3">M5</text><text x="1022.5" y="5.3">M15</text><text x="1050.5" y="5.3">M30</text><text x="1081.5" y="5.3">H1</text><text x="1108.5" y="5.3">H4</text><text x="1137.5" y="5.3">D1</text><text x="1165" y="5.3">W1</text><text x="1192" y="5.3">MN</text>
</g>
<rect x="1214" y="0" width="1" height="12" fill="#a8a8a8"/>
<!-- right icons -->
<circle cx="1685" cy="-1" r="4" fill="#f8f8ff" stroke="#2858d0" stroke-width="1.6"/>
<line x1="1682" y1="2.5" x2="1677" y2="7" stroke="#2858d0" stroke-width="2.4"/>
<ellipse cx="1718" cy="-0.5" rx="5.2" ry="4" fill="#ececf4" stroke="#909090" stroke-width="0.9"/>
<path d="M1720,2.8 l1.8,3 l-0.2,-3.6 z" fill="#808080"/>
<ellipse cx="1709" cy="1.5" rx="5.6" ry="4.6" fill="#e4e4ee" stroke="#9a9a9a" stroke-width="0.9"/>
<path d="M1705.5,5 l0.3,3.6 l2.8,-2.8 z" fill="#d8d8e0" stroke="#8a8a8a" stroke-width="0.7"/>
</g>
</svg>

<div id="tpw" style="position:absolute;left:0;top:36px;width:215px;height:2px;background:#fff;"></div>
<div id="tp" style="position:absolute;left:0;top:38px;width:214px;height:64px;font-family:'Liberation Sans',sans-serif;">
<div style="position:absolute;left:46px;top:0;width:117px;height:25px;background:#fff;"></div>
<div style="position:absolute;left:-1px;top:0;width:48px;height:24px;background:linear-gradient(#fc5858,#e83c3c 60%,#e03434);border:1px solid #c80c0c;border-bottom:none;box-sizing:border-box;"></div>
<div style="position:absolute;left:163px;top:0;width:51px;height:24px;background:linear-gradient(#fc5858,#e83c3c 60%,#e03434);border:1px solid #c80c0c;border-bottom:none;box-sizing:border-box;"></div>
<div style="position:absolute;left:-1px;top:24px;width:105px;height:40px;background:linear-gradient(#e43a3a,#cc1c1c 45%,#b40404 85%,#b00000);border:1px solid #b00808;box-sizing:border-box;"></div>
<div style="position:absolute;left:106px;top:24px;width:108px;height:40px;background:linear-gradient(#e43a3a,#cc1c1c 45%,#b40404 85%,#b00000);border:1px solid #b00808;box-sizing:border-box;"></div>
<div style="position:absolute;left:0;top:23px;width:43px;height:1px;background:#a80808;"></div><div style="position:absolute;left:0;top:24px;width:43px;height:1px;background:#f06060;"></div>
<div style="position:absolute;left:166px;top:23px;width:44px;height:1px;background:#a80808;"></div><div style="position:absolute;left:166px;top:24px;width:44px;height:1px;background:#f06060;"></div>
<div style="position:absolute;left:7.2px;top:4.6px;font-size:12.4px;color:#fff;line-height:14px;letter-spacing:-1.05px;">SELL</div>
<div style="position:absolute;left:175.6px;top:4.6px;font-size:12.4px;color:#fff;line-height:14px;letter-spacing:-0.45px;">BUY</div>
<!-- spinner -->
<div style="position:absolute;left:49px;top:0;width:112px;height:22px;border:1px solid #aab0bc;box-sizing:border-box;background:#fff;"></div>
<div style="position:absolute;left:51px;top:2px;width:19px;height:18px;background:linear-gradient(#f4f4f4,#e6e6e6 45%,#d6d6d6 50%,#dadada);border-right:1px solid #b4b8c4;"></div>
<div style="position:absolute;left:139px;top:2px;width:20px;height:18px;background:linear-gradient(#f4f4f4,#e6e6e6 45%,#d6d6d6 50%,#dadada);border-left:1px solid #b4b8c4;"></div>
<div style="position:absolute;left:57px;top:9px;width:0;height:0;border-left:2.8px solid transparent;border-right:2.8px solid transparent;border-top:3.4px solid #5468c8;"></div>
<div style="position:absolute;left:146px;top:9px;width:0;height:0;border-left:2.8px solid transparent;border-right:2.8px solid transparent;border-bottom:3.4px solid #5468c8;"></div>
<div style="position:absolute;left:100px;top:4px;width:35px;text-align:right;font-size:12px;line-height:14px;color:#000;">1.00</div>
<!-- prices -->
<div style="position:absolute;left:15.3px;top:44.6px;font-size:12.6px;font-weight:bold;color:#fff;line-height:12px;transform-origin:left;transform:scaleX(0.94);">1.29</div>
<div style="position:absolute;left:42px;top:23.6px;font-size:34.5px;color:#fff;line-height:38px;letter-spacing:-1.6px;transform-origin:left;transform:scaleX(0.955);">07</div>
<div style="position:absolute;left:81.8px;top:29.2px;font-size:12.4px;font-weight:bold;color:#fff;line-height:12px;">4</div>
<div style="position:absolute;left:125.3px;top:44.6px;font-size:12.6px;font-weight:bold;color:#fff;line-height:12px;transform-origin:left;transform:scaleX(0.94);">1.29</div>
<div style="position:absolute;left:153.5px;top:23.6px;font-size:34.5px;color:#fff;line-height:38px;letter-spacing:-1.6px;transform-origin:left;transform:scaleX(0.955);">10</div>
<div style="position:absolute;left:193.4px;top:29.2px;font-size:12.4px;font-weight:bold;color:#fff;line-height:12px;">9</div>
</div>

</body></html>
